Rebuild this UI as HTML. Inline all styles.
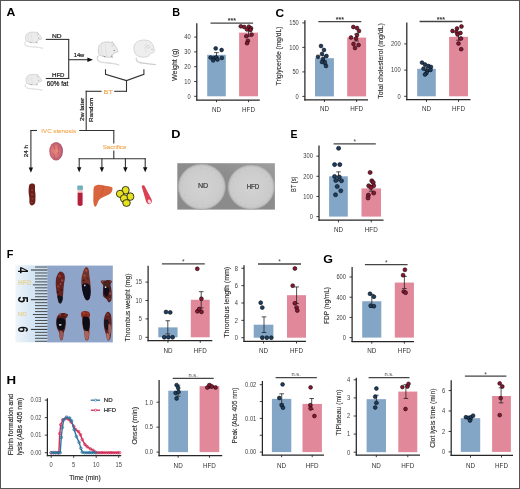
<!DOCTYPE html>
<html><head><meta charset="utf-8"><style>
html,body{margin:0;padding:0;background:#fff;}
body{width:520px;height:489px;overflow:hidden;}
svg{display:block;font-family:"Liberation Sans", sans-serif;will-change:transform;}
</style></head><body>
<svg width="520" height="489" viewBox="0 0 520 489">
<rect x="0" y="0" width="520" height="489" fill="#fff"/>
<text x="6.59" y="15.7" font-size="11.0" text-anchor="start" fill="#000" font-weight="bold" textLength="8.84" lengthAdjust="spacingAndGlyphs">A</text>
<text x="172.17" y="15.7" font-size="11.0" text-anchor="start" fill="#000" font-weight="bold" textLength="7.82" lengthAdjust="spacingAndGlyphs">B</text>
<text x="275.61" y="16.6" font-size="11.0" text-anchor="start" fill="#000" font-weight="bold" textLength="8.62" lengthAdjust="spacingAndGlyphs">C</text>
<text x="171.25" y="137.7" font-size="11.0" text-anchor="start" fill="#000" font-weight="bold" textLength="9.20" lengthAdjust="spacingAndGlyphs">D</text>
<text x="290.59" y="137.7" font-size="11.0" text-anchor="start" fill="#000" font-weight="bold" textLength="7.03" lengthAdjust="spacingAndGlyphs">E</text>
<text x="6.87" y="257.9" font-size="11.0" text-anchor="start" fill="#000" font-weight="bold" textLength="6.64" lengthAdjust="spacingAndGlyphs">F</text>
<text x="323.19" y="263.3" font-size="11.0" text-anchor="start" fill="#000" font-weight="bold" textLength="9.70" lengthAdjust="spacingAndGlyphs">G</text>
<text x="6.41" y="384.2" font-size="11.0" text-anchor="start" fill="#000" font-weight="bold" textLength="9.59" lengthAdjust="spacingAndGlyphs">H</text>
<g transform="translate(25.2 32.0) scale(0.835 0.7)">
<path d="M1 13.7 C-1.5 15.2 -1.5 18.2 2 20 C6 21.4 12 21.2 16 22 C18.5 22.5 20 23 21.2 23.4" fill="none" stroke="#c9c9c9" stroke-width="1.1"/>
<path d="M1 13.7 C-1.5 15.2 -1.5 18.2 2 20 C6 21.4 12 21.2 16 22 C18.5 22.5 20 23 21.2 23.4" fill="none" stroke="#f4f4f4" stroke-width="0.4"/>
<path d="M1.5 13.2 C-0.5 9.2 0 4.2 3 1.7 C6 -0.3 10.5 -0.3 13 0.7 L14.4 0 L15.3 1.7 C17 3.2 18.5 5.7 19 7.2 C20 8.7 20.3 9.7 19.8 10.2 C18.5 10.8 17 10.8 16 11.2 C15 13.2 14 14.7 13 15.2 C10 15.7 6 15.5 1.5 13.2 Z" fill="#ececec" stroke="#ababab" stroke-width="0.5"/>
<path d="M4 3 C3 6 3 10 4.5 13 M8 1.5 C7 5 7.5 10 9 14" fill="none" stroke="#d2d2d2" stroke-width="0.5"/>
<path d="M13.5 1.2 C14.5 0.2 15.8 1.2 15.8 3 C15.5 4.2 14.3 4.7 13.5 4" fill="#ececec" stroke="#a9a9a9" stroke-width="0.45"/>
<circle cx="16.2" cy="8.5" r="0.65" fill="#6a6a6a"/>
<path d="M5.6 14.2 L7.4 15.2 M13.6 13.8 L14.2 16" stroke="#8e8e8e" stroke-width="1"/>
</g>
<g transform="translate(25.7 74.3) scale(0.805 0.69)">
<path d="M1 13.7 C-1.5 15.2 -1.5 18.2 2 20 C6 21.4 12 21.2 16 22 C18.5 22.5 20 23 21.2 23.4" fill="none" stroke="#c9c9c9" stroke-width="1.1"/>
<path d="M1 13.7 C-1.5 15.2 -1.5 18.2 2 20 C6 21.4 12 21.2 16 22 C18.5 22.5 20 23 21.2 23.4" fill="none" stroke="#f4f4f4" stroke-width="0.4"/>
<path d="M1.5 13.2 C-0.5 9.2 0 4.2 3 1.7 C6 -0.3 10.5 -0.3 13 0.7 L14.4 0 L15.3 1.7 C17 3.2 18.5 5.7 19 7.2 C20 8.7 20.3 9.7 19.8 10.2 C18.5 10.8 17 10.8 16 11.2 C15 13.2 14 14.7 13 15.2 C10 15.7 6 15.5 1.5 13.2 Z" fill="#ececec" stroke="#ababab" stroke-width="0.5"/>
<path d="M4 3 C3 6 3 10 4.5 13 M8 1.5 C7 5 7.5 10 9 14" fill="none" stroke="#d2d2d2" stroke-width="0.5"/>
<path d="M13.5 1.2 C14.5 0.2 15.8 1.2 15.8 3 C15.5 4.2 14.3 4.7 13.5 4" fill="#ececec" stroke="#a9a9a9" stroke-width="0.45"/>
<circle cx="16.2" cy="8.5" r="0.65" fill="#6a6a6a"/>
<path d="M5.6 14.2 L7.4 15.2 M13.6 13.8 L14.2 16" stroke="#8e8e8e" stroke-width="1"/>
</g>
<g transform="translate(98.0 41.8) scale(1.0 1.0)">
<path d="M1 13.7 C-1.5 15.2 -1.5 18.2 2 20 C6 21.4 12 21.2 16 22 C18.5 22.5 20 23 21.2 23.4" fill="none" stroke="#c9c9c9" stroke-width="1.1"/>
<path d="M1 13.7 C-1.5 15.2 -1.5 18.2 2 20 C6 21.4 12 21.2 16 22 C18.5 22.5 20 23 21.2 23.4" fill="none" stroke="#f4f4f4" stroke-width="0.4"/>
<path d="M1.5 13.2 C-0.5 9.2 0 4.2 3 1.7 C6 -0.3 10.5 -0.3 13 0.7 L14.4 0 L15.3 1.7 C17 3.2 18.5 5.7 19 7.2 C20 8.7 20.3 9.7 19.8 10.2 C18.5 10.8 17 10.8 16 11.2 C15 13.2 14 14.7 13 15.2 C10 15.7 6 15.5 1.5 13.2 Z" fill="#ececec" stroke="#ababab" stroke-width="0.5"/>
<path d="M4 3 C3 6 3 10 4.5 13 M8 1.5 C7 5 7.5 10 9 14" fill="none" stroke="#d2d2d2" stroke-width="0.5"/>
<path d="M13.5 1.2 C14.5 0.2 15.8 1.2 15.8 3 C15.5 4.2 14.3 4.7 13.5 4" fill="#ececec" stroke="#a9a9a9" stroke-width="0.45"/>
<circle cx="16.2" cy="8.5" r="0.65" fill="#6a6a6a"/>
<path d="M5.6 14.2 L7.4 15.2 M13.6 13.8 L14.2 16" stroke="#8e8e8e" stroke-width="1"/>
</g>
<g transform="translate(133.2 39.9) scale(1.0 1.0)">
<path d="M3.2 17.8 C2.5 20 3.5 21.5 6 22.5 C10 23.7 16 23.8 22.6 24.7" fill="none" stroke="#cdcdcd" stroke-width="1.1"/>
<path d="M2.5 14.5 C0 11 -0.2 5.5 3 2.6 C6.5 -0.4 13 -0.6 16.5 1.4 C19 2.8 20.3 5.5 20.6 8 C21.4 9.5 21.4 11 20.6 12.2 C19.6 13 18.5 13.2 17.6 13.4 C16.6 15.6 14.6 17 12 17.3 C8.5 17.6 4.8 16.8 2.5 14.5 Z" fill="#eeeeee" stroke="#b6b6b6" stroke-width="0.5"/>
<path d="M13.8 5.6 C15.2 5 16.4 6 16.3 7.4 C16 8.4 14.8 8.6 14 8 C13.5 7.2 13.4 6.3 13.8 5.6 Z" fill="#f2f2f2" stroke="#b2b2b2" stroke-width="0.45"/>
<path d="M12.4 3.5 C11.6 6.5 11.8 10 13.2 12.8" fill="none" stroke="#d0d0d0" stroke-width="0.5"/>
<circle cx="18.8" cy="9.4" r="0.5" fill="#9a9a9a"/>
</g>
<line x1="45.8" y1="39.4" x2="69.2" y2="39.4" stroke="#333" stroke-width="1.1"/>
<line x1="45.8" y1="78.5" x2="69.2" y2="78.5" stroke="#333" stroke-width="1.1"/>
<line x1="68.7" y1="38.9" x2="68.7" y2="79.0" stroke="#333" stroke-width="1.1"/>
<line x1="68.7" y1="59.7" x2="88.5" y2="59.7" stroke="#333" stroke-width="1.1"/>
<path d="M87.4 57.4 L93.0 59.7 L87.4 62.0 Z" fill="#111"/>
<text x="52.0" y="37.7" font-size="5.9" text-anchor="start" fill="#1a1a1a" font-weight="normal" textLength="9.60" lengthAdjust="spacingAndGlyphs" stroke="#1a1a1a" stroke-width="0.2">ND</text>
<text x="52.0" y="77.2" font-size="5.9" text-anchor="start" fill="#1a1a1a" font-weight="normal" textLength="12.50" lengthAdjust="spacingAndGlyphs" stroke="#1a1a1a" stroke-width="0.2">HFD</text>
<text x="46.8" y="86.4" font-size="6.3" text-anchor="start" fill="#1a1a1a" font-weight="normal" textLength="21.50" lengthAdjust="spacingAndGlyphs" stroke="#1a1a1a" stroke-width="0.2">60% fat</text>
<text x="73.7" y="57.3" font-size="5.9" text-anchor="start" fill="#1a1a1a" font-weight="normal" textLength="10.60" lengthAdjust="spacingAndGlyphs" stroke="#1a1a1a" stroke-width="0.2">14w</text>
<path d="M105.5 69.3 L105.5 74.3 L126.5 80.6 L143.9 74.3 L143.9 69.3" fill="none" stroke="#333" stroke-width="1.1"/>
<line x1="126.5" y1="80.4" x2="126.5" y2="91.8" stroke="#333" stroke-width="1.1"/>
<line x1="114.2" y1="91.3" x2="127.0" y2="91.3" stroke="#333" stroke-width="1.1"/>
<text x="103.6" y="93.6" font-size="5.7" text-anchor="start" fill="#f0a64c" font-weight="normal" textLength="9.20" lengthAdjust="spacingAndGlyphs" stroke="#f0a64c" stroke-width="0.1">BT</text>
<line x1="85.7" y1="91.3" x2="101.6" y2="91.3" stroke="#333" stroke-width="1.1"/>
<line x1="86.2" y1="90.8" x2="86.2" y2="131.0" stroke="#333" stroke-width="1.1"/>
<text x="84.0" y="109.30000000000001" font-size="6.0" text-anchor="middle" fill="#1a1a1a" font-weight="normal" transform="rotate(-90 84.0 109.30000000000001)" textLength="23.20" lengthAdjust="spacingAndGlyphs" stroke="#1a1a1a" stroke-width="0.2">2w later</text>
<text x="92.9" y="109.80000000000001" font-size="6.0" text-anchor="middle" fill="#1a1a1a" font-weight="normal" transform="rotate(-90 92.9 109.80000000000001)" textLength="24.20" lengthAdjust="spacingAndGlyphs" stroke="#1a1a1a" stroke-width="0.2">Random</text>
<line x1="30.4" y1="130.5" x2="37.0" y2="130.5" stroke="#333" stroke-width="1.1"/>
<text x="41.3" y="132.9" font-size="6.1" text-anchor="start" fill="#f0a64c" font-weight="normal" textLength="34.70" lengthAdjust="spacingAndGlyphs" stroke="#f0a64c" stroke-width="0.1">IVC stenosis</text>
<line x1="79.2" y1="130.5" x2="114.3" y2="130.5" stroke="#333" stroke-width="1.1"/>
<line x1="30.9" y1="130.0" x2="30.9" y2="168.5" stroke="#333" stroke-width="1.1"/>
<path d="M28.7 167.4 L33.1 167.4 L30.9 172.8 Z" fill="#111"/>
<text x="28.4" y="151.1" font-size="5.8" text-anchor="middle" fill="#1a1a1a" font-weight="normal" transform="rotate(-90 28.4 151.1)" textLength="12.20" lengthAdjust="spacingAndGlyphs" stroke="#1a1a1a" stroke-width="0.2">24 h</text>
<line x1="113.8" y1="130.0" x2="113.8" y2="143.6" stroke="#333" stroke-width="1.1"/>
<text x="102.7" y="148.9" font-size="6.2" text-anchor="start" fill="#f0a64c" font-weight="normal" textLength="23.70" lengthAdjust="spacingAndGlyphs" stroke="#f0a64c" stroke-width="0.1">Sacrifice</text>
<line x1="113.8" y1="150.6" x2="113.8" y2="159.0" stroke="#333" stroke-width="1.1"/>
<line x1="78.7" y1="158.7" x2="145.7" y2="158.7" stroke="#333" stroke-width="1.1"/>
<line x1="79.2" y1="158.2" x2="79.2" y2="168.0" stroke="#333" stroke-width="1.1"/>
<path d="M77.0 167.2 L81.4 167.2 L79.2 172.2 Z" fill="#111"/>
<line x1="101.9" y1="158.2" x2="101.9" y2="168.0" stroke="#333" stroke-width="1.1"/>
<path d="M99.7 167.2 L104.10000000000001 167.2 L101.9 172.2 Z" fill="#111"/>
<line x1="125.4" y1="158.2" x2="125.4" y2="168.0" stroke="#333" stroke-width="1.1"/>
<path d="M123.2 167.2 L127.60000000000001 167.2 L125.4 172.2 Z" fill="#111"/>
<line x1="145.2" y1="158.2" x2="145.2" y2="168.0" stroke="#333" stroke-width="1.1"/>
<path d="M143.0 167.2 L147.39999999999998 167.2 L145.2 172.2 Z" fill="#111"/>
<defs><radialGradient id="egg" cx="0.45" cy="0.5" r="0.55"><stop offset="0" stop-color="#e58a7a"/><stop offset="0.55" stop-color="#d77476"/><stop offset="0.85" stop-color="#b85a70"/><stop offset="1" stop-color="#94506e"/></radialGradient></defs>
<ellipse cx="56.1" cy="151.2" rx="6.8" ry="9.3" fill="url(#egg)"/>
<g fill="none" stroke-width="0.7" stroke-linecap="round">
<path d="M53.5 145 C55 147 54 149 55.5 151" stroke="#c0405a"/>
<path d="M58.5 146 C58 149 59.5 151 58 154" stroke="#c04a5e"/>
<path d="M52.5 153 C54 154 55 156 54.5 158" stroke="#b84868"/>
<path d="M55 150.5 C56.5 150 57.5 150.5 58 151.5" stroke="#f0a890"/>
</g>
<path d="M29.4 184.6 C30.8 183 33.8 183 34.8 184.6 C35.4 187 34.6 189.5 35.2 192 C35.8 195 35.4 198 35.4 201 C35.2 204 33.5 205.6 31.6 205.4 C29.6 205 29.2 202.5 29.4 200 C29.6 197 28.6 194.5 28.6 191.5 C28.6 189 28.8 186.5 29.4 184.6 Z" fill="#6c1f1c"/>
<g fill="#8e4a30"><ellipse cx="32.2" cy="190" rx="1.1" ry="0.8"/><ellipse cx="32" cy="194.5" rx="1.2" ry="0.8"/><ellipse cx="32.4" cy="198.8" rx="1.1" ry="0.8"/><ellipse cx="31.8" cy="202.5" rx="0.9" ry="0.7"/></g>
<rect x="77.3" y="185.4" width="5.6" height="4.6" rx="0.6" fill="#6fb0bd"/>
<rect x="77.6" y="189.8" width="5.0" height="3.2" fill="#e8c8cc"/>
<path d="M77.6 192.8 L82.6 192.8 L82.6 204.6 C82.6 206.4 77.6 206.4 77.6 204.6 Z" fill="#b51f3c"/>
<path d="M94.2 186.5 C96.5 184 101 184.4 104 185.6 C107 186.6 110.5 186.2 112.4 187.4 C113 190 111.6 193 109 194.6 C105.5 196.6 101 197.5 99 200 C97.5 202.5 96.8 206.5 95.2 206.8 C93.2 206 93.2 200 93.4 196 C93.5 192 93.2 188.5 94.2 186.5 Z" fill="#d9653f"/>
<path d="M103 186 C103.5 190 102.5 193 100 196" fill="none" stroke="#b84a2c" stroke-width="0.5"/>
<g stroke="#1a1a1a" stroke-width="0.85" fill="#e6e21e">
<ellipse cx="125.6" cy="190.2" rx="3.6" ry="3.8"/>
<ellipse cx="120.0" cy="193.8" rx="3.6" ry="3.6"/>
<ellipse cx="130.3" cy="196.6" rx="3.6" ry="3.8"/>
<ellipse cx="124.0" cy="198.4" rx="3.6" ry="3.8"/>
<ellipse cx="126.5" cy="203.0" rx="3.8" ry="3.4"/>
</g>
<path d="M141.6 186.3 C142.8 184.8 144.4 185.2 145 186.8 L151.6 199.5 C152.6 202.4 150.6 205 148.2 204 C147 203.4 146.4 202.4 146 201.2 Z" fill="#dc3f52"/>
<ellipse cx="149.4" cy="201.6" rx="1.6" ry="2.2" fill="#f4d4d8" transform="rotate(-25 149.4 201.6)"/>
<defs>
<radialGradient id="plate" cx="0.5" cy="0.5" r="0.5"><stop offset="0" stop-color="#d3d3d3"/><stop offset="0.88" stop-color="#cbcbcb"/><stop offset="1" stop-color="#b8b8b8"/></radialGradient>
</defs>
<linearGradient id="pbg" x1="0" y1="1" x2="1" y2="0"><stop offset="0" stop-color="#8a8a8a"/><stop offset="0.6" stop-color="#8c8c8c"/><stop offset="1" stop-color="#9e9e9e"/></linearGradient>
<rect x="177.3" y="163.2" width="97.6" height="46.4" fill="url(#pbg)"/>
<ellipse cx="201.8" cy="186.8" rx="23.6" ry="22.7" fill="url(#plate)" stroke="#aaaaaa" stroke-width="0.6"/>
<ellipse cx="251.2" cy="187.1" rx="23.2" ry="22.1" fill="url(#plate)" stroke="#aaaaaa" stroke-width="0.6"/>
<circle cx="221.20" cy="188.67" r="0.45" fill="#b09c9c" opacity="0.55"/><circle cx="219.87" cy="193.84" r="0.45" fill="#b09c9c" opacity="0.55"/><circle cx="217.07" cy="198.44" r="0.45" fill="#b09c9c" opacity="0.55"/><circle cx="213.03" cy="202.10" r="0.45" fill="#b09c9c" opacity="0.55"/><circle cx="208.09" cy="204.52" r="0.45" fill="#b09c9c" opacity="0.55"/><circle cx="202.63" cy="205.50" r="0.45" fill="#b09c9c" opacity="0.55"/><circle cx="197.11" cy="204.97" r="0.45" fill="#b09c9c" opacity="0.55"/><circle cx="191.97" cy="202.97" r="0.45" fill="#b09c9c" opacity="0.55"/><circle cx="187.62" cy="199.65" r="0.45" fill="#b09c9c" opacity="0.55"/><circle cx="184.43" cy="195.30" r="0.45" fill="#b09c9c" opacity="0.55"/><circle cx="182.63" cy="190.25" r="0.45" fill="#b09c9c" opacity="0.55"/><circle cx="182.40" cy="184.93" r="0.45" fill="#b09c9c" opacity="0.55"/><circle cx="183.73" cy="179.76" r="0.45" fill="#b09c9c" opacity="0.55"/><circle cx="186.53" cy="175.16" r="0.45" fill="#b09c9c" opacity="0.55"/><circle cx="190.57" cy="171.50" r="0.45" fill="#b09c9c" opacity="0.55"/><circle cx="195.51" cy="169.08" r="0.45" fill="#b09c9c" opacity="0.55"/><circle cx="200.97" cy="168.10" r="0.45" fill="#b09c9c" opacity="0.55"/><circle cx="206.49" cy="168.63" r="0.45" fill="#b09c9c" opacity="0.55"/><circle cx="211.63" cy="170.63" r="0.45" fill="#b09c9c" opacity="0.55"/><circle cx="215.98" cy="173.95" r="0.45" fill="#b09c9c" opacity="0.55"/><circle cx="219.17" cy="178.30" r="0.45" fill="#b09c9c" opacity="0.55"/><circle cx="220.97" cy="183.35" r="0.45" fill="#b09c9c" opacity="0.55"/><circle cx="269.35" cy="192.49" r="0.45" fill="#b09c9c" opacity="0.55"/><circle cx="266.73" cy="197.61" r="0.45" fill="#b09c9c" opacity="0.55"/><circle cx="262.58" cy="201.70" r="0.45" fill="#b09c9c" opacity="0.55"/><circle cx="257.33" cy="204.37" r="0.45" fill="#b09c9c" opacity="0.55"/><circle cx="251.47" cy="205.34" r="0.45" fill="#b09c9c" opacity="0.55"/><circle cx="245.59" cy="204.53" r="0.45" fill="#b09c9c" opacity="0.55"/><circle cx="240.25" cy="202.01" r="0.45" fill="#b09c9c" opacity="0.55"/><circle cx="235.99" cy="198.03" r="0.45" fill="#b09c9c" opacity="0.55"/><circle cx="233.21" cy="192.98" r="0.45" fill="#b09c9c" opacity="0.55"/><circle cx="232.20" cy="187.36" r="0.45" fill="#b09c9c" opacity="0.55"/><circle cx="233.05" cy="181.71" r="0.45" fill="#b09c9c" opacity="0.55"/><circle cx="235.67" cy="176.59" r="0.45" fill="#b09c9c" opacity="0.55"/><circle cx="239.82" cy="172.50" r="0.45" fill="#b09c9c" opacity="0.55"/><circle cx="245.07" cy="169.83" r="0.45" fill="#b09c9c" opacity="0.55"/><circle cx="250.93" cy="168.86" r="0.45" fill="#b09c9c" opacity="0.55"/><circle cx="256.81" cy="169.67" r="0.45" fill="#b09c9c" opacity="0.55"/><circle cx="262.15" cy="172.19" r="0.45" fill="#b09c9c" opacity="0.55"/><circle cx="266.41" cy="176.17" r="0.45" fill="#b09c9c" opacity="0.55"/><circle cx="269.19" cy="181.22" r="0.45" fill="#b09c9c" opacity="0.55"/><circle cx="270.20" cy="186.84" r="0.45" fill="#b09c9c" opacity="0.55"/>
<text x="197.9" y="188.1" font-size="6.5" text-anchor="start" fill="#3a3a3a" font-weight="normal" textLength="10.30" lengthAdjust="spacingAndGlyphs" stroke="#3a3a3a" stroke-width="0.2">ND</text>
<text x="246.7" y="188.8" font-size="6.5" text-anchor="start" fill="#3a3a3a" font-weight="normal" textLength="12.60" lengthAdjust="spacingAndGlyphs" stroke="#3a3a3a" stroke-width="0.2">HFD</text>
<defs><linearGradient id="rul" x1="0" y1="0" x2="1" y2="0"><stop offset="0" stop-color="#eef4fa"/><stop offset="0.5" stop-color="#d6e6f4"/><stop offset="1" stop-color="#c8dcee"/></linearGradient></defs>
<rect x="15.4" y="265.3" width="32.2" height="77.0" fill="url(#rul)"/>
<rect x="47.4" y="265.6" width="65.4" height="76.8" fill="#8ea4c8"/>
<line x1="35.0" y1="267.03" x2="47.4" y2="267.03" stroke="#1e1e1e" stroke-width="0.75"/>
<line x1="30.9" y1="270.00" x2="47.4" y2="270.00" stroke="#1e1e1e" stroke-width="0.95"/>
<line x1="35.0" y1="272.97" x2="47.4" y2="272.97" stroke="#1e1e1e" stroke-width="0.75"/>
<line x1="35.0" y1="275.94" x2="47.4" y2="275.94" stroke="#1e1e1e" stroke-width="0.75"/>
<line x1="35.0" y1="278.91" x2="47.4" y2="278.91" stroke="#1e1e1e" stroke-width="0.75"/>
<line x1="35.0" y1="281.88" x2="47.4" y2="281.88" stroke="#1e1e1e" stroke-width="0.75"/>
<line x1="32.9" y1="284.85" x2="47.4" y2="284.85" stroke="#1e1e1e" stroke-width="0.8"/>
<line x1="35.0" y1="287.82" x2="47.4" y2="287.82" stroke="#1e1e1e" stroke-width="0.75"/>
<line x1="35.0" y1="290.79" x2="47.4" y2="290.79" stroke="#1e1e1e" stroke-width="0.75"/>
<line x1="35.0" y1="293.76" x2="47.4" y2="293.76" stroke="#1e1e1e" stroke-width="0.75"/>
<line x1="35.0" y1="296.73" x2="47.4" y2="296.73" stroke="#1e1e1e" stroke-width="0.75"/>
<line x1="30.9" y1="299.70" x2="47.4" y2="299.70" stroke="#1e1e1e" stroke-width="0.95"/>
<line x1="35.0" y1="302.67" x2="47.4" y2="302.67" stroke="#1e1e1e" stroke-width="0.75"/>
<line x1="35.0" y1="305.64" x2="47.4" y2="305.64" stroke="#1e1e1e" stroke-width="0.75"/>
<line x1="35.0" y1="308.61" x2="47.4" y2="308.61" stroke="#1e1e1e" stroke-width="0.75"/>
<line x1="35.0" y1="311.58" x2="47.4" y2="311.58" stroke="#1e1e1e" stroke-width="0.75"/>
<line x1="32.9" y1="314.55" x2="47.4" y2="314.55" stroke="#1e1e1e" stroke-width="0.8"/>
<line x1="35.0" y1="317.52" x2="47.4" y2="317.52" stroke="#1e1e1e" stroke-width="0.75"/>
<line x1="35.0" y1="320.49" x2="47.4" y2="320.49" stroke="#1e1e1e" stroke-width="0.75"/>
<line x1="35.0" y1="323.46" x2="47.4" y2="323.46" stroke="#1e1e1e" stroke-width="0.75"/>
<line x1="35.0" y1="326.43" x2="47.4" y2="326.43" stroke="#1e1e1e" stroke-width="0.75"/>
<line x1="30.9" y1="329.40" x2="47.4" y2="329.40" stroke="#1e1e1e" stroke-width="0.95"/>
<line x1="35.0" y1="332.37" x2="47.4" y2="332.37" stroke="#1e1e1e" stroke-width="0.75"/>
<line x1="35.0" y1="335.34" x2="47.4" y2="335.34" stroke="#1e1e1e" stroke-width="0.75"/>
<line x1="35.0" y1="338.31" x2="47.4" y2="338.31" stroke="#1e1e1e" stroke-width="0.75"/>
<line x1="35.0" y1="341.28" x2="47.4" y2="341.28" stroke="#1e1e1e" stroke-width="0.75"/>
<text x="22.9" y="270.0" font-size="14.5" text-anchor="middle" fill="#111" font-weight="bold" transform="rotate(90 22.9 270.0)" textLength="6.20" lengthAdjust="spacingAndGlyphs" dominant-baseline="central">4</text>
<text x="22.9" y="299.7" font-size="14.5" text-anchor="middle" fill="#111" font-weight="bold" transform="rotate(90 22.9 299.7)" textLength="6.20" lengthAdjust="spacingAndGlyphs" dominant-baseline="central">5</text>
<text x="22.9" y="329.4" font-size="14.5" text-anchor="middle" fill="#111" font-weight="bold" transform="rotate(90 22.9 329.4)" textLength="6.20" lengthAdjust="spacingAndGlyphs" dominant-baseline="central">6</text>
<text x="18.1" y="285.2" font-size="7.0" text-anchor="start" fill="#e6d49a" font-weight="bold" textLength="13.40" lengthAdjust="spacingAndGlyphs">HFD</text>
<text x="17.7" y="316.0" font-size="5.8" text-anchor="start" fill="#e6d49a" font-weight="bold" textLength="9.20" lengthAdjust="spacingAndGlyphs">ND</text>
<defs><filter id="bl" x="-20%" y="-20%" width="140%" height="140%"><feGaussianBlur stdDeviation="0.4"/></filter></defs>
<g filter="url(#bl)">
<path d="M60.5 271.5 C62 271.6 63.2 272.3 64.4 274.5 C65.2 276.5 65 279.5 64.2 282.5 C63.6 286 63.5 290 63.2 294 C62.9 297.5 62.4 300.5 61.4 302.6 C60.6 303.8 59.2 303.6 58.5 302.2 C57.6 299 57 295 56.4 291 C55.8 287 55.5 283 55.9 279.5 C56.3 276.5 57.6 274 58.8 272.5 C59.3 271.8 59.9 271.5 60.5 271.5 Z" fill="#642320"/>
<circle cx="59.6" cy="276" r="1.6" fill="#8e3b2e"/><circle cx="62.2" cy="280.5" r="1.2" fill="#94443a"/><circle cx="58.2" cy="286.5" r="1.3" fill="#8a3a2e"/><circle cx="61.5" cy="290" r="1.1" fill="#3a1618"/><circle cx="57.6" cy="292" r="0.9" fill="#2a1418"/><circle cx="60.5" cy="284" r="0.7" fill="#b06a5a"/>
<path d="M57.5 296 C59.5 295 62.5 295.5 62.8 298 C62.6 301 61.4 303.6 60 303.6 C58.6 302.8 57.8 299.5 57.5 296 Z" fill="#10131f"/>
<path d="M86.3 267.1 C87.8 267.3 88.8 269 89 271.5 C89.2 274.5 89.6 277.5 90.1 280.5 C90.6 284.5 90.8 289 90.6 293.5 C90.4 297 89.4 299.8 87.8 300.5 C86.2 300.6 84.8 298.5 83.8 295.5 C82.6 292 81.8 288 81.4 284 C81.1 280 81.6 276.5 82.6 273.5 C83.6 270 84.8 267.4 86.3 267.1 Z" fill="#72302a"/>
<circle cx="86.2" cy="270.5" r="1.3" fill="#a25238"/><circle cx="84.5" cy="275.5" r="1.2" fill="#9a4a36"/><circle cx="87.6" cy="278.5" r="1.1" fill="#5a2020"/><circle cx="83.6" cy="280.5" r="1" fill="#3a1a1c"/>
<path d="M82.3 284.5 C84 282.5 88.2 282.8 89.9 285.5 C90.8 289.5 90.8 294.5 89.8 298 C88.8 300.4 86.8 300.8 85.6 299.4 C84 297 82.8 293 82.2 289.2 C82 287.4 82 285.6 82.3 284.5 Z" fill="#0b0e1a"/>
<circle cx="84.8" cy="285.4" r="0.85" fill="#d8d0d0"/>
<path d="M100.6 281 C102.5 280 104.8 280.6 106.5 280.2 C108.5 279.7 110.5 280 112 281.2 C111.5 282.6 110.6 283.2 110.5 285 C111.6 289 112 294 111.6 298.5 C111.2 301.8 109.6 303 108.3 302 C107.3 300.2 106.5 298.8 105.1 298.1 C103.6 297.4 102.6 295.4 102.9 293 C103.1 290 103.5 287 103 284.5 C102 283.5 101 282.5 100.6 281 Z" fill="#4e201f"/>
<circle cx="102.6" cy="281.4" r="1" fill="#9a4a3a"/><circle cx="110.4" cy="281.6" r="0.9" fill="#8a3a30"/>
<path d="M103.5 287 C105 285.5 108 286 109 288.5 C109.5 292 108.5 296 106.5 297 C104.5 296.5 103.5 293 103.5 290 Z" fill="#17111a"/>
<circle cx="105.6" cy="287.2" r="0.85" fill="#e0d8d8"/>
<circle cx="110.2" cy="293.5" r="1.2" fill="#9a463a"/><circle cx="109.5" cy="299" r="1" fill="#8a3a30"/>
<path d="M61.9 313 C64 312.6 66.5 313.2 68.1 314.6 C67.8 316.6 66.6 317.8 65.6 318.6 C66 322 65.8 326 65 329.6 C64 331.5 63.5 333 63.4 335 C63.4 337.5 62.8 340 61.5 340.6 C60 340.2 59.6 337.5 59.5 335 C59.3 332.5 58.8 331 57.5 329.5 C56.2 326 56 322 56.5 318.5 C57 316 59 313.6 61.9 313 Z" fill="#561f1e"/>
<circle cx="60" cy="314.8" r="1.2" fill="#8e3a30"/><circle cx="65.5" cy="315.2" r="1" fill="#7e3028"/>
<path d="M57 319 C59 317.5 63.5 317.5 65.2 320 C65.8 323.5 65 327.5 63.2 329.8 C61 330.5 58.6 329.8 57.4 327.5 C56.4 325 56.4 321.5 57 319 Z" fill="#0f0e18"/>
<ellipse cx="60.2" cy="324.8" rx="1.4" ry="0.85" fill="#e4dcdc"/>
<path d="M59.6 331 C61 330.5 63 331 63.2 333.5 C63.4 336.5 62.5 340 61.4 340.6 C60.2 340 59.4 337 59.3 334.5 Z" fill="#9c5850"/>
<path d="M84.5 311 C86.5 310.6 89.2 311.4 90 313.4 C90.3 315.5 89.6 317 89.2 318.5 C90 322 90 326 89.4 329.5 C89.4 332.5 89.6 336 88.6 339.2 C87.8 340.8 86 340.8 85.2 339.4 C84.4 336.5 84.6 333 83.8 330.6 C82.6 327 82 322 82.2 318 C81 316 80.6 313.5 81.5 312.2 C82.4 311.4 83.4 311.1 84.5 311 Z" fill="#862c24"/>
<circle cx="84" cy="313.2" r="1.4" fill="#a83a2c"/><circle cx="87.8" cy="313.6" r="1.1" fill="#9a3428"/>
<path d="M83 317 C85 316 88.5 316.5 89.5 319 C90 323 89.8 327.5 88.8 330.5 C87 331.5 84.8 331 83.8 329 C82.6 325.5 82.2 320.5 83 317 Z" fill="#0b0b15"/>
<path d="M84.5 331 C86 330.5 88.5 331 89 333.5 C89 336.5 88.3 339.5 86.8 340.4 C85.4 340 84.8 337 84.4 334.5 Z" fill="#a8665a"/>
<path d="M107.5 311.8 C109 311.6 110.6 313 111 315 C111.6 318 111.9 322 111.6 326 C111.4 330 111.3 334 110.6 337.5 C110 340 108.6 341 107.4 340.2 C106.6 338 106.4 335 105.4 332.5 C104.2 329 103.6 325 103.8 321 C104 317.5 105.4 313 107.5 311.8 Z" fill="#5e2422"/>
<path d="M104.2 320 C105.6 318.5 108 319 108.6 321.5 C109 325 108.5 329 107 330.5 C105.5 330 104.5 327 104.2 324 Z" fill="#14121c"/>
<path d="M108.5 324 C110 323.5 111.4 325.5 111.2 329 C111 333 110 336 109 335 C108.4 332 108 327 108.5 324 Z" fill="#a06258"/>
<path d="M106.5 333 C107.8 332.5 109.5 334 109.8 336.5 C109.6 339 108.5 340.6 107.4 340.2 C106.6 338 106.2 335.5 106.5 333 Z" fill="#ac6e64"/>
<circle cx="107.6" cy="314.5" r="1.1" fill="#8a3a30"/>
</g>
<rect x="207.2" y="54.86" width="18.600000000000023" height="41.44" fill="#84a6c6"/>
<rect x="239.1" y="32.66" width="18.900000000000006" height="63.64" fill="#e1889a"/>
<line x1="216.5" y1="52.64" x2="216.5" y2="57.08" stroke="#1a1a1a" stroke-width="0.75"/>
<line x1="214.2" y1="52.64" x2="218.8" y2="52.64" stroke="#1a1a1a" stroke-width="0.75"/>
<line x1="214.2" y1="57.08" x2="218.8" y2="57.08" stroke="#1a1a1a" stroke-width="0.75"/>
<line x1="248.5" y1="28.959999999999994" x2="248.5" y2="36.36" stroke="#1a1a1a" stroke-width="0.75"/>
<line x1="246.2" y1="28.959999999999994" x2="250.8" y2="28.959999999999994" stroke="#1a1a1a" stroke-width="0.75"/>
<line x1="246.2" y1="36.36" x2="250.8" y2="36.36" stroke="#1a1a1a" stroke-width="0.75"/>
<circle cx="215.7" cy="48.4" r="1.9" fill="#1b3d61" stroke="#0d0d0d" stroke-width="0.6"/>
<circle cx="221.6" cy="50" r="1.9" fill="#1b3d61" stroke="#0d0d0d" stroke-width="0.6"/>
<circle cx="210.6" cy="57.6" r="1.9" fill="#1b3d61" stroke="#0d0d0d" stroke-width="0.6"/>
<circle cx="213.9" cy="58.1" r="1.9" fill="#1b3d61" stroke="#0d0d0d" stroke-width="0.6"/>
<circle cx="216.2" cy="57.4" r="1.9" fill="#1b3d61" stroke="#0d0d0d" stroke-width="0.6"/>
<circle cx="221.9" cy="57.9" r="1.9" fill="#1b3d61" stroke="#0d0d0d" stroke-width="0.6"/>
<circle cx="213.2" cy="60.4" r="1.9" fill="#1b3d61" stroke="#0d0d0d" stroke-width="0.6"/>
<circle cx="217.5" cy="59.5" r="1.9" fill="#1b3d61" stroke="#0d0d0d" stroke-width="0.6"/>
<circle cx="240.8" cy="26.3" r="1.9" fill="#8c1631" stroke="#0d0d0d" stroke-width="0.6"/>
<circle cx="244.2" cy="27" r="1.9" fill="#8c1631" stroke="#0d0d0d" stroke-width="0.6"/>
<circle cx="248.8" cy="26.7" r="1.9" fill="#8c1631" stroke="#0d0d0d" stroke-width="0.6"/>
<circle cx="251" cy="28.2" r="1.9" fill="#8c1631" stroke="#0d0d0d" stroke-width="0.6"/>
<circle cx="247" cy="29.4" r="1.9" fill="#8c1631" stroke="#0d0d0d" stroke-width="0.6"/>
<circle cx="250.5" cy="30" r="1.9" fill="#8c1631" stroke="#0d0d0d" stroke-width="0.6"/>
<circle cx="246.3" cy="36.2" r="1.9" fill="#8c1631" stroke="#0d0d0d" stroke-width="0.6"/>
<circle cx="251.6" cy="34.6" r="1.9" fill="#8c1631" stroke="#0d0d0d" stroke-width="0.6"/>
<circle cx="247.9" cy="40.8" r="1.9" fill="#8c1631" stroke="#0d0d0d" stroke-width="0.6"/>
<circle cx="247" cy="43.2" r="1.9" fill="#8c1631" stroke="#0d0d0d" stroke-width="0.6"/>
<line x1="196.8" y1="23.3" x2="196.8" y2="100.6" stroke="#262626" stroke-width="1.25"/>
<line x1="196.20000000000002" y1="100.0" x2="259.8" y2="100.0" stroke="#262626" stroke-width="1.25"/>
<line x1="194.20000000000002" y1="96.3" x2="196.8" y2="96.3" stroke="#262626" stroke-width="0.9"/>
<text x="190.70000000000002" y="98.6" font-size="6.4" text-anchor="end" fill="#404040" font-weight="normal" textLength="3.20" lengthAdjust="spacingAndGlyphs">0</text>
<line x1="194.20000000000002" y1="81.5" x2="196.8" y2="81.5" stroke="#262626" stroke-width="0.9"/>
<text x="190.70000000000002" y="83.8" font-size="6.4" text-anchor="end" fill="#404040" font-weight="normal" textLength="6.41" lengthAdjust="spacingAndGlyphs">10</text>
<line x1="194.20000000000002" y1="66.69999999999999" x2="196.8" y2="66.69999999999999" stroke="#262626" stroke-width="0.9"/>
<text x="190.70000000000002" y="68.99999999999999" font-size="6.4" text-anchor="end" fill="#404040" font-weight="normal" textLength="6.41" lengthAdjust="spacingAndGlyphs">20</text>
<line x1="194.20000000000002" y1="51.9" x2="196.8" y2="51.9" stroke="#262626" stroke-width="0.9"/>
<text x="190.70000000000002" y="54.199999999999996" font-size="6.4" text-anchor="end" fill="#404040" font-weight="normal" textLength="6.41" lengthAdjust="spacingAndGlyphs">30</text>
<line x1="194.20000000000002" y1="37.099999999999994" x2="196.8" y2="37.099999999999994" stroke="#262626" stroke-width="0.9"/>
<text x="190.70000000000002" y="39.39999999999999" font-size="6.4" text-anchor="end" fill="#404040" font-weight="normal" textLength="6.41" lengthAdjust="spacingAndGlyphs">40</text>
<line x1="216.5" y1="100.0" x2="216.5" y2="102.2" stroke="#262626" stroke-width="0.9"/>
<text x="216.5" y="111.6" font-size="6.3" text-anchor="middle" fill="#333" font-weight="normal">ND</text>
<line x1="248.55" y1="100.0" x2="248.55" y2="102.2" stroke="#262626" stroke-width="0.9"/>
<text x="248.55" y="111.6" font-size="6.3" text-anchor="middle" fill="#333" font-weight="normal">HFD</text>
<line x1="210.5" y1="23.1" x2="253.1" y2="23.1" stroke="#444" stroke-width="1.3"/>
<text x="231.8" y="23.3" font-size="7.0" text-anchor="middle" fill="#333" font-weight="bold">***</text>
<text x="177.4" y="64.8" font-size="6.8" text-anchor="middle" fill="#303030" font-weight="normal" transform="rotate(-90 177.4 64.8)" textLength="32.60" lengthAdjust="spacingAndGlyphs" stroke="#303030" stroke-width="0.13">Weight (g)</text>
<rect x="315" y="58.18000000000001" width="18.899999999999977" height="38.22" fill="#84a6c6"/>
<rect x="347.2" y="37.60000000000001" width="18.900000000000034" height="58.8" fill="#e1889a"/>
<line x1="324.5" y1="55.730000000000004" x2="324.5" y2="60.63000000000001" stroke="#1a1a1a" stroke-width="0.75"/>
<line x1="322.2" y1="55.730000000000004" x2="326.8" y2="55.730000000000004" stroke="#1a1a1a" stroke-width="0.75"/>
<line x1="322.2" y1="60.63000000000001" x2="326.8" y2="60.63000000000001" stroke="#1a1a1a" stroke-width="0.75"/>
<line x1="356.6" y1="34.17000000000001" x2="356.6" y2="41.03000000000001" stroke="#1a1a1a" stroke-width="0.75"/>
<line x1="354.3" y1="34.17000000000001" x2="358.90000000000003" y2="34.17000000000001" stroke="#1a1a1a" stroke-width="0.75"/>
<line x1="354.3" y1="41.03000000000001" x2="358.90000000000003" y2="41.03000000000001" stroke="#1a1a1a" stroke-width="0.75"/>
<circle cx="321" cy="46" r="1.9" fill="#1b3d61" stroke="#0d0d0d" stroke-width="0.6"/>
<circle cx="324" cy="50" r="1.9" fill="#1b3d61" stroke="#0d0d0d" stroke-width="0.6"/>
<circle cx="322" cy="54" r="1.9" fill="#1b3d61" stroke="#0d0d0d" stroke-width="0.6"/>
<circle cx="318" cy="56.8" r="1.9" fill="#1b3d61" stroke="#0d0d0d" stroke-width="0.6"/>
<circle cx="326.5" cy="56" r="1.9" fill="#1b3d61" stroke="#0d0d0d" stroke-width="0.6"/>
<circle cx="323" cy="59" r="1.9" fill="#1b3d61" stroke="#0d0d0d" stroke-width="0.6"/>
<circle cx="322" cy="62" r="1.9" fill="#1b3d61" stroke="#0d0d0d" stroke-width="0.6"/>
<circle cx="325" cy="63" r="1.9" fill="#1b3d61" stroke="#0d0d0d" stroke-width="0.6"/>
<circle cx="326" cy="66" r="1.9" fill="#1b3d61" stroke="#0d0d0d" stroke-width="0.6"/>
<circle cx="353.3" cy="27" r="1.9" fill="#8c1631" stroke="#0d0d0d" stroke-width="0.6"/>
<circle cx="357" cy="28" r="1.9" fill="#8c1631" stroke="#0d0d0d" stroke-width="0.6"/>
<circle cx="359" cy="31" r="1.9" fill="#8c1631" stroke="#0d0d0d" stroke-width="0.6"/>
<circle cx="357" cy="35" r="1.9" fill="#8c1631" stroke="#0d0d0d" stroke-width="0.6"/>
<circle cx="351" cy="37.5" r="1.9" fill="#8c1631" stroke="#0d0d0d" stroke-width="0.6"/>
<circle cx="356" cy="38.5" r="1.9" fill="#8c1631" stroke="#0d0d0d" stroke-width="0.6"/>
<circle cx="353.5" cy="44" r="1.9" fill="#8c1631" stroke="#0d0d0d" stroke-width="0.6"/>
<circle cx="358.6" cy="45" r="1.9" fill="#8c1631" stroke="#0d0d0d" stroke-width="0.6"/>
<circle cx="355" cy="48" r="1.9" fill="#8c1631" stroke="#0d0d0d" stroke-width="0.6"/>
<line x1="304.9" y1="20.2" x2="304.9" y2="100.39999999999999" stroke="#262626" stroke-width="1.25"/>
<line x1="304.29999999999995" y1="99.8" x2="368" y2="99.8" stroke="#262626" stroke-width="1.25"/>
<line x1="302.29999999999995" y1="96.4" x2="304.9" y2="96.4" stroke="#262626" stroke-width="0.9"/>
<text x="298.79999999999995" y="98.7" font-size="6.4" text-anchor="end" fill="#404040" font-weight="normal" textLength="3.20" lengthAdjust="spacingAndGlyphs">0</text>
<line x1="302.29999999999995" y1="71.9" x2="304.9" y2="71.9" stroke="#262626" stroke-width="0.9"/>
<text x="298.79999999999995" y="74.2" font-size="6.4" text-anchor="end" fill="#404040" font-weight="normal" textLength="6.41" lengthAdjust="spacingAndGlyphs">50</text>
<line x1="302.29999999999995" y1="47.400000000000006" x2="304.9" y2="47.400000000000006" stroke="#262626" stroke-width="0.9"/>
<text x="298.79999999999995" y="49.7" font-size="6.4" text-anchor="end" fill="#404040" font-weight="normal" textLength="9.61" lengthAdjust="spacingAndGlyphs">100</text>
<line x1="302.29999999999995" y1="22.900000000000006" x2="304.9" y2="22.900000000000006" stroke="#262626" stroke-width="0.9"/>
<text x="298.79999999999995" y="25.200000000000006" font-size="6.4" text-anchor="end" fill="#404040" font-weight="normal" textLength="9.61" lengthAdjust="spacingAndGlyphs">150</text>
<line x1="324.45" y1="99.8" x2="324.45" y2="102.0" stroke="#262626" stroke-width="0.9"/>
<text x="324.45" y="111.39999999999999" font-size="6.3" text-anchor="middle" fill="#333" font-weight="normal">ND</text>
<line x1="356.65" y1="99.8" x2="356.65" y2="102.0" stroke="#262626" stroke-width="0.9"/>
<text x="356.65" y="111.39999999999999" font-size="6.3" text-anchor="middle" fill="#333" font-weight="normal">HFD</text>
<line x1="318.3" y1="21.6" x2="361.3" y2="21.6" stroke="#444" stroke-width="1.3"/>
<text x="339.8" y="21.8" font-size="7.0" text-anchor="middle" fill="#333" font-weight="bold">***</text>
<text x="281.3" y="55.95" font-size="6.8" text-anchor="middle" fill="#303030" font-weight="normal" transform="rotate(-90 281.3 55.95)" textLength="58.90" lengthAdjust="spacingAndGlyphs" stroke="#303030" stroke-width="0.13">Triglyceride (mg/dL)</text>
<rect x="417.2" y="68.78999999999999" width="18.600000000000023" height="27.510000000000005" fill="#84a6c6"/>
<rect x="449.1" y="36.82599999999999" width="18.899999999999977" height="59.474000000000004" fill="#e1889a"/>
<line x1="426.5" y1="66.95599999999999" x2="426.5" y2="70.624" stroke="#1a1a1a" stroke-width="0.75"/>
<line x1="424.2" y1="66.95599999999999" x2="428.8" y2="66.95599999999999" stroke="#1a1a1a" stroke-width="0.75"/>
<line x1="424.2" y1="70.624" x2="428.8" y2="70.624" stroke="#1a1a1a" stroke-width="0.75"/>
<line x1="458.5" y1="33.419999999999995" x2="458.5" y2="40.23199999999999" stroke="#1a1a1a" stroke-width="0.75"/>
<line x1="456.2" y1="33.419999999999995" x2="460.8" y2="33.419999999999995" stroke="#1a1a1a" stroke-width="0.75"/>
<line x1="456.2" y1="40.23199999999999" x2="460.8" y2="40.23199999999999" stroke="#1a1a1a" stroke-width="0.75"/>
<circle cx="422" cy="62.6" r="1.9" fill="#1b3d61" stroke="#0d0d0d" stroke-width="0.6"/>
<circle cx="425" cy="64.5" r="1.9" fill="#1b3d61" stroke="#0d0d0d" stroke-width="0.6"/>
<circle cx="428.5" cy="66" r="1.9" fill="#1b3d61" stroke="#0d0d0d" stroke-width="0.6"/>
<circle cx="431" cy="67" r="1.9" fill="#1b3d61" stroke="#0d0d0d" stroke-width="0.6"/>
<circle cx="423.5" cy="68.6" r="1.9" fill="#1b3d61" stroke="#0d0d0d" stroke-width="0.6"/>
<circle cx="427.5" cy="70.5" r="1.9" fill="#1b3d61" stroke="#0d0d0d" stroke-width="0.6"/>
<circle cx="430.5" cy="70" r="1.9" fill="#1b3d61" stroke="#0d0d0d" stroke-width="0.6"/>
<circle cx="426.5" cy="73" r="1.9" fill="#1b3d61" stroke="#0d0d0d" stroke-width="0.6"/>
<circle cx="425" cy="74.5" r="1.9" fill="#1b3d61" stroke="#0d0d0d" stroke-width="0.6"/>
<circle cx="461.5" cy="26.5" r="1.9" fill="#8c1631" stroke="#0d0d0d" stroke-width="0.6"/>
<circle cx="457" cy="28.5" r="1.9" fill="#8c1631" stroke="#0d0d0d" stroke-width="0.6"/>
<circle cx="452.5" cy="31" r="1.9" fill="#8c1631" stroke="#0d0d0d" stroke-width="0.6"/>
<circle cx="456.5" cy="32" r="1.9" fill="#8c1631" stroke="#0d0d0d" stroke-width="0.6"/>
<circle cx="460.5" cy="33" r="1.9" fill="#8c1631" stroke="#0d0d0d" stroke-width="0.6"/>
<circle cx="457.5" cy="34.5" r="1.9" fill="#8c1631" stroke="#0d0d0d" stroke-width="0.6"/>
<circle cx="461" cy="38.5" r="1.9" fill="#8c1631" stroke="#0d0d0d" stroke-width="0.6"/>
<circle cx="458.5" cy="43.5" r="1.9" fill="#8c1631" stroke="#0d0d0d" stroke-width="0.6"/>
<circle cx="461.2" cy="49.2" r="1.9" fill="#8c1631" stroke="#0d0d0d" stroke-width="0.6"/>
<line x1="406.8" y1="22.6" x2="406.8" y2="100.3" stroke="#262626" stroke-width="1.25"/>
<line x1="406.2" y1="99.7" x2="470.5" y2="99.7" stroke="#262626" stroke-width="1.25"/>
<line x1="404.2" y1="96.3" x2="406.8" y2="96.3" stroke="#262626" stroke-width="0.9"/>
<text x="400.7" y="98.6" font-size="6.4" text-anchor="end" fill="#404040" font-weight="normal" textLength="3.20" lengthAdjust="spacingAndGlyphs">0</text>
<line x1="404.2" y1="70.1" x2="406.8" y2="70.1" stroke="#262626" stroke-width="0.9"/>
<text x="400.7" y="72.39999999999999" font-size="6.4" text-anchor="end" fill="#404040" font-weight="normal" textLength="9.61" lengthAdjust="spacingAndGlyphs">100</text>
<line x1="404.2" y1="43.89999999999999" x2="406.8" y2="43.89999999999999" stroke="#262626" stroke-width="0.9"/>
<text x="400.7" y="46.19999999999999" font-size="6.4" text-anchor="end" fill="#404040" font-weight="normal" textLength="9.61" lengthAdjust="spacingAndGlyphs">200</text>
<line x1="426.5" y1="99.7" x2="426.5" y2="101.9" stroke="#262626" stroke-width="0.9"/>
<text x="426.5" y="111.3" font-size="6.3" text-anchor="middle" fill="#333" font-weight="normal">ND</text>
<line x1="458.55" y1="99.7" x2="458.55" y2="101.9" stroke="#262626" stroke-width="0.9"/>
<text x="458.55" y="111.3" font-size="6.3" text-anchor="middle" fill="#333" font-weight="normal">HFD</text>
<line x1="419.6" y1="21.5" x2="462.3" y2="21.5" stroke="#444" stroke-width="1.3"/>
<text x="440.95000000000005" y="21.7" font-size="7.0" text-anchor="middle" fill="#333" font-weight="bold">***</text>
<text x="383.2" y="61.05" font-size="6.8" text-anchor="middle" fill="#303030" font-weight="normal" transform="rotate(-90 383.2 61.05)" textLength="75.50" lengthAdjust="spacingAndGlyphs" stroke="#303030" stroke-width="0.13">Total cholesterol (mg/dL)</text>
<rect x="329.1" y="176.29999999999998" width="18.69999999999999" height="40.30000000000001" fill="#84a6c6"/>
<rect x="361.5" y="188.39" width="19.5" height="28.210000000000008" fill="#e1889a"/>
<line x1="338.5" y1="171.867" x2="338.5" y2="180.733" stroke="#1a1a1a" stroke-width="0.75"/>
<line x1="336.2" y1="171.867" x2="340.8" y2="171.867" stroke="#1a1a1a" stroke-width="0.75"/>
<line x1="336.2" y1="180.733" x2="340.8" y2="180.733" stroke="#1a1a1a" stroke-width="0.75"/>
<line x1="371.2" y1="185.569" x2="371.2" y2="191.21099999999998" stroke="#1a1a1a" stroke-width="0.75"/>
<line x1="368.9" y1="185.569" x2="373.5" y2="185.569" stroke="#1a1a1a" stroke-width="0.75"/>
<line x1="368.9" y1="191.21099999999998" x2="373.5" y2="191.21099999999998" stroke="#1a1a1a" stroke-width="0.75"/>
<circle cx="338.6" cy="148.3" r="2.05" fill="#1b3d61" stroke="#0d0d0d" stroke-width="0.6"/>
<circle cx="334.6" cy="164.6" r="2.05" fill="#1b3d61" stroke="#0d0d0d" stroke-width="0.6"/>
<circle cx="339.8" cy="164.6" r="2.05" fill="#1b3d61" stroke="#0d0d0d" stroke-width="0.6"/>
<circle cx="334.6" cy="176.5" r="2.05" fill="#1b3d61" stroke="#0d0d0d" stroke-width="0.6"/>
<circle cx="339.3" cy="177" r="2.05" fill="#1b3d61" stroke="#0d0d0d" stroke-width="0.6"/>
<circle cx="335.8" cy="180.5" r="2.05" fill="#1b3d61" stroke="#0d0d0d" stroke-width="0.6"/>
<circle cx="341.5" cy="180.8" r="2.05" fill="#1b3d61" stroke="#0d0d0d" stroke-width="0.6"/>
<circle cx="337.2" cy="186.5" r="2.05" fill="#1b3d61" stroke="#0d0d0d" stroke-width="0.6"/>
<circle cx="340.8" cy="190.8" r="2.05" fill="#1b3d61" stroke="#0d0d0d" stroke-width="0.6"/>
<circle cx="335.5" cy="194.8" r="2.05" fill="#1b3d61" stroke="#0d0d0d" stroke-width="0.6"/>
<circle cx="370.1" cy="172.5" r="2.05" fill="#8c1631" stroke="#0d0d0d" stroke-width="0.6"/>
<circle cx="371.8" cy="180.8" r="2.05" fill="#8c1631" stroke="#0d0d0d" stroke-width="0.6"/>
<circle cx="373.2" cy="182.5" r="2.05" fill="#8c1631" stroke="#0d0d0d" stroke-width="0.6"/>
<circle cx="368.7" cy="185.8" r="2.05" fill="#8c1631" stroke="#0d0d0d" stroke-width="0.6"/>
<circle cx="373.7" cy="185.8" r="2.05" fill="#8c1631" stroke="#0d0d0d" stroke-width="0.6"/>
<circle cx="371" cy="187.5" r="2.05" fill="#8c1631" stroke="#0d0d0d" stroke-width="0.6"/>
<circle cx="373.7" cy="193" r="2.05" fill="#8c1631" stroke="#0d0d0d" stroke-width="0.6"/>
<circle cx="368.4" cy="195.1" r="2.05" fill="#8c1631" stroke="#0d0d0d" stroke-width="0.6"/>
<circle cx="368" cy="198" r="2.05" fill="#8c1631" stroke="#0d0d0d" stroke-width="0.6"/>
<line x1="319.0" y1="145.5" x2="319.0" y2="220.79999999999998" stroke="#262626" stroke-width="1.25"/>
<line x1="318.4" y1="220.2" x2="383.5" y2="220.2" stroke="#262626" stroke-width="1.25"/>
<line x1="316.4" y1="216.6" x2="319.0" y2="216.6" stroke="#262626" stroke-width="0.9"/>
<text x="312.9" y="218.9" font-size="6.4" text-anchor="end" fill="#404040" font-weight="normal" textLength="3.20" lengthAdjust="spacingAndGlyphs">0</text>
<line x1="316.4" y1="196.45" x2="319.0" y2="196.45" stroke="#262626" stroke-width="0.9"/>
<text x="312.9" y="198.75" font-size="6.4" text-anchor="end" fill="#404040" font-weight="normal" textLength="9.61" lengthAdjust="spacingAndGlyphs">100</text>
<line x1="316.4" y1="176.29999999999998" x2="319.0" y2="176.29999999999998" stroke="#262626" stroke-width="0.9"/>
<text x="312.9" y="178.6" font-size="6.4" text-anchor="end" fill="#404040" font-weight="normal" textLength="9.61" lengthAdjust="spacingAndGlyphs">200</text>
<line x1="316.4" y1="156.14999999999998" x2="319.0" y2="156.14999999999998" stroke="#262626" stroke-width="0.9"/>
<text x="312.9" y="158.45" font-size="6.4" text-anchor="end" fill="#404040" font-weight="normal" textLength="9.61" lengthAdjust="spacingAndGlyphs">300</text>
<line x1="338.45000000000005" y1="220.2" x2="338.45000000000005" y2="222.39999999999998" stroke="#262626" stroke-width="0.9"/>
<text x="338.45000000000005" y="232.4" font-size="6.3" text-anchor="middle" fill="#333" font-weight="normal">ND</text>
<line x1="371.25" y1="220.2" x2="371.25" y2="222.39999999999998" stroke="#262626" stroke-width="0.9"/>
<text x="371.25" y="232.4" font-size="6.3" text-anchor="middle" fill="#333" font-weight="normal">HFD</text>
<line x1="333.6" y1="143.8" x2="375.8" y2="143.8" stroke="#444" stroke-width="1.3"/>
<text x="354.70000000000005" y="144.20000000000002" font-size="6.6" text-anchor="middle" fill="#444" font-weight="normal">*</text>
<text x="296.4" y="184.3" font-size="6.8" text-anchor="middle" fill="#303030" font-weight="normal" transform="rotate(-90 296.4 184.3)" textLength="15.40" lengthAdjust="spacingAndGlyphs" stroke="#303030" stroke-width="0.13">BT (s)</text>
<rect x="158.3" y="327.36400000000003" width="19.299999999999983" height="9.935999999999979" fill="#84a6c6"/>
<rect x="190.8" y="299.764" width="18.899999999999977" height="37.536" fill="#e1889a"/>
<line x1="167.8" y1="320.74" x2="167.8" y2="333.988" stroke="#1a1a1a" stroke-width="0.75"/>
<line x1="165.5" y1="320.74" x2="170.10000000000002" y2="320.74" stroke="#1a1a1a" stroke-width="0.75"/>
<line x1="165.5" y1="333.988" x2="170.10000000000002" y2="333.988" stroke="#1a1a1a" stroke-width="0.75"/>
<line x1="201.2" y1="291.668" x2="201.2" y2="307.86" stroke="#1a1a1a" stroke-width="0.75"/>
<line x1="198.89999999999998" y1="291.668" x2="203.5" y2="291.668" stroke="#1a1a1a" stroke-width="0.75"/>
<line x1="198.89999999999998" y1="307.86" x2="203.5" y2="307.86" stroke="#1a1a1a" stroke-width="0.75"/>
<circle cx="166" cy="312" r="1.95" fill="#1b3d61" stroke="#0d0d0d" stroke-width="0.6"/>
<circle cx="170.2" cy="312.4" r="1.95" fill="#1b3d61" stroke="#0d0d0d" stroke-width="0.6"/>
<circle cx="164.3" cy="337.3" r="1.95" fill="#1b3d61" stroke="#0d0d0d" stroke-width="0.6"/>
<circle cx="168.4" cy="337.3" r="1.95" fill="#1b3d61" stroke="#0d0d0d" stroke-width="0.6"/>
<circle cx="172.6" cy="337.3" r="1.95" fill="#1b3d61" stroke="#0d0d0d" stroke-width="0.6"/>
<circle cx="197.3" cy="268.8" r="1.95" fill="#8c1631" stroke="#0d0d0d" stroke-width="0.6"/>
<circle cx="201.4" cy="298.8" r="1.95" fill="#8c1631" stroke="#0d0d0d" stroke-width="0.6"/>
<circle cx="197.4" cy="311.3" r="1.95" fill="#8c1631" stroke="#0d0d0d" stroke-width="0.6"/>
<circle cx="201.5" cy="311.9" r="1.95" fill="#8c1631" stroke="#0d0d0d" stroke-width="0.6"/>
<circle cx="199.3" cy="309" r="1.95" fill="#8c1631" stroke="#0d0d0d" stroke-width="0.6"/>
<line x1="148.1" y1="265.7" x2="148.1" y2="341.20000000000005" stroke="#262626" stroke-width="1.25"/>
<line x1="147.5" y1="340.6" x2="212.3" y2="340.6" stroke="#262626" stroke-width="1.25"/>
<line x1="145.5" y1="337.3" x2="148.1" y2="337.3" stroke="#262626" stroke-width="0.9"/>
<text x="142.0" y="339.6" font-size="6.4" text-anchor="end" fill="#404040" font-weight="normal" textLength="3.20" lengthAdjust="spacingAndGlyphs">0</text>
<line x1="145.5" y1="318.90000000000003" x2="148.1" y2="318.90000000000003" stroke="#262626" stroke-width="0.9"/>
<text x="142.0" y="321.20000000000005" font-size="6.4" text-anchor="end" fill="#404040" font-weight="normal" textLength="3.20" lengthAdjust="spacingAndGlyphs">5</text>
<line x1="145.5" y1="300.5" x2="148.1" y2="300.5" stroke="#262626" stroke-width="0.9"/>
<text x="142.0" y="302.8" font-size="6.4" text-anchor="end" fill="#404040" font-weight="normal" textLength="6.41" lengthAdjust="spacingAndGlyphs">10</text>
<line x1="145.5" y1="282.1" x2="148.1" y2="282.1" stroke="#262626" stroke-width="0.9"/>
<text x="142.0" y="284.40000000000003" font-size="6.4" text-anchor="end" fill="#404040" font-weight="normal" textLength="6.41" lengthAdjust="spacingAndGlyphs">15</text>
<line x1="167.95" y1="340.6" x2="167.95" y2="342.8" stroke="#262626" stroke-width="0.9"/>
<text x="167.95" y="352.6" font-size="6.3" text-anchor="middle" fill="#333" font-weight="normal">ND</text>
<line x1="200.25" y1="340.6" x2="200.25" y2="342.8" stroke="#262626" stroke-width="0.9"/>
<text x="200.25" y="352.6" font-size="6.3" text-anchor="middle" fill="#333" font-weight="normal">HFD</text>
<line x1="161.9" y1="263.9" x2="204.8" y2="263.9" stroke="#444" stroke-width="1.3"/>
<text x="183.35000000000002" y="264.29999999999995" font-size="6.6" text-anchor="middle" fill="#444" font-weight="normal">*</text>
<text x="129.8" y="307.45" font-size="6.8" text-anchor="middle" fill="#303030" font-weight="normal" transform="rotate(-90 129.8 307.45)" textLength="68.10" lengthAdjust="spacingAndGlyphs" stroke="#303030" stroke-width="0.13">Thrombus weight (mg)</text>
<rect x="253.7" y="324.6875" width="19.69999999999999" height="13.012499999999989" fill="#84a6c6"/>
<rect x="287.0" y="295.1925" width="19.0" height="42.50749999999999" fill="#e1889a"/>
<line x1="264" y1="316.88" x2="264" y2="332.495" stroke="#1a1a1a" stroke-width="0.75"/>
<line x1="261.7" y1="316.88" x2="266.3" y2="316.88" stroke="#1a1a1a" stroke-width="0.75"/>
<line x1="261.7" y1="332.495" x2="266.3" y2="332.495" stroke="#1a1a1a" stroke-width="0.75"/>
<line x1="296.6" y1="286.95124999999996" x2="296.6" y2="303.43375" stroke="#1a1a1a" stroke-width="0.75"/>
<line x1="294.3" y1="286.95124999999996" x2="298.90000000000003" y2="286.95124999999996" stroke="#1a1a1a" stroke-width="0.75"/>
<line x1="294.3" y1="303.43375" x2="298.90000000000003" y2="303.43375" stroke="#1a1a1a" stroke-width="0.75"/>
<circle cx="260.7" cy="302.7" r="1.95" fill="#1b3d61" stroke="#0d0d0d" stroke-width="0.6"/>
<circle cx="262.3" cy="307.6" r="1.95" fill="#1b3d61" stroke="#0d0d0d" stroke-width="0.6"/>
<circle cx="262.3" cy="337.7" r="1.95" fill="#1b3d61" stroke="#0d0d0d" stroke-width="0.6"/>
<circle cx="266.8" cy="337.7" r="1.95" fill="#1b3d61" stroke="#0d0d0d" stroke-width="0.6"/>
<circle cx="271.3" cy="337.7" r="1.95" fill="#1b3d61" stroke="#0d0d0d" stroke-width="0.6"/>
<circle cx="294.9" cy="268.5" r="1.95" fill="#8c1631" stroke="#0d0d0d" stroke-width="0.6"/>
<circle cx="292.7" cy="285.7" r="1.95" fill="#8c1631" stroke="#0d0d0d" stroke-width="0.6"/>
<circle cx="294.9" cy="303.3" r="1.95" fill="#8c1631" stroke="#0d0d0d" stroke-width="0.6"/>
<circle cx="296.6" cy="307.6" r="1.95" fill="#8c1631" stroke="#0d0d0d" stroke-width="0.6"/>
<circle cx="297.3" cy="310.6" r="1.95" fill="#8c1631" stroke="#0d0d0d" stroke-width="0.6"/>
<line x1="244.0" y1="265.3" x2="244.0" y2="341.90000000000003" stroke="#262626" stroke-width="1.25"/>
<line x1="243.4" y1="341.3" x2="306" y2="341.3" stroke="#262626" stroke-width="1.25"/>
<line x1="241.4" y1="337.7" x2="244.0" y2="337.7" stroke="#262626" stroke-width="0.9"/>
<text x="237.9" y="340.0" font-size="6.4" text-anchor="end" fill="#404040" font-weight="normal" textLength="3.20" lengthAdjust="spacingAndGlyphs">0</text>
<line x1="241.4" y1="320.34999999999997" x2="244.0" y2="320.34999999999997" stroke="#262626" stroke-width="0.9"/>
<text x="237.9" y="322.65" font-size="6.4" text-anchor="end" fill="#404040" font-weight="normal" textLength="3.20" lengthAdjust="spacingAndGlyphs">2</text>
<line x1="241.4" y1="303.0" x2="244.0" y2="303.0" stroke="#262626" stroke-width="0.9"/>
<text x="237.9" y="305.3" font-size="6.4" text-anchor="end" fill="#404040" font-weight="normal" textLength="3.20" lengthAdjust="spacingAndGlyphs">4</text>
<line x1="241.4" y1="285.65" x2="244.0" y2="285.65" stroke="#262626" stroke-width="0.9"/>
<text x="237.9" y="287.95" font-size="6.4" text-anchor="end" fill="#404040" font-weight="normal" textLength="3.20" lengthAdjust="spacingAndGlyphs">6</text>
<line x1="241.4" y1="268.29999999999995" x2="244.0" y2="268.29999999999995" stroke="#262626" stroke-width="0.9"/>
<text x="237.9" y="270.59999999999997" font-size="6.4" text-anchor="end" fill="#404040" font-weight="normal" textLength="3.20" lengthAdjust="spacingAndGlyphs">8</text>
<line x1="263.54999999999995" y1="341.3" x2="263.54999999999995" y2="343.5" stroke="#262626" stroke-width="0.9"/>
<text x="263.54999999999995" y="352.7" font-size="6.3" text-anchor="middle" fill="#333" font-weight="normal">ND</text>
<line x1="296.5" y1="341.3" x2="296.5" y2="343.5" stroke="#262626" stroke-width="0.9"/>
<text x="296.5" y="352.7" font-size="6.3" text-anchor="middle" fill="#333" font-weight="normal">HFD</text>
<line x1="258" y1="264.0" x2="301" y2="264.0" stroke="#444" stroke-width="1.3"/>
<text x="279.5" y="264.4" font-size="6.6" text-anchor="middle" fill="#444" font-weight="normal">*</text>
<text x="228.5" y="302.25" font-size="6.8" text-anchor="middle" fill="#303030" font-weight="normal" transform="rotate(-90 228.5 302.25)" textLength="70.90" lengthAdjust="spacingAndGlyphs" stroke="#303030" stroke-width="0.13">Thrombus length (mm)</text>
<rect x="362.2" y="301.24" width="19.100000000000023" height="36.360000000000014" fill="#84a6c6"/>
<rect x="394.8" y="282.555" width="19.099999999999966" height="55.045000000000016" fill="#e1889a"/>
<line x1="371.8" y1="294.372" x2="371.8" y2="307.3" stroke="#1a1a1a" stroke-width="0.75"/>
<line x1="369.5" y1="294.372" x2="374.1" y2="294.372" stroke="#1a1a1a" stroke-width="0.75"/>
<line x1="369.5" y1="307.3" x2="374.1" y2="307.3" stroke="#1a1a1a" stroke-width="0.75"/>
<line x1="404.4" y1="276.495" x2="404.4" y2="288.615" stroke="#1a1a1a" stroke-width="0.75"/>
<line x1="402.09999999999997" y1="276.495" x2="406.7" y2="276.495" stroke="#1a1a1a" stroke-width="0.75"/>
<line x1="402.09999999999997" y1="288.615" x2="406.7" y2="288.615" stroke="#1a1a1a" stroke-width="0.75"/>
<circle cx="370" cy="293.8" r="1.95" fill="#1b3d61" stroke="#0d0d0d" stroke-width="0.6"/>
<circle cx="373.9" cy="296.7" r="1.95" fill="#1b3d61" stroke="#0d0d0d" stroke-width="0.6"/>
<circle cx="370.7" cy="305.7" r="1.95" fill="#1b3d61" stroke="#0d0d0d" stroke-width="0.6"/>
<circle cx="373.9" cy="306.2" r="1.95" fill="#1b3d61" stroke="#0d0d0d" stroke-width="0.6"/>
<circle cx="404.9" cy="269.8" r="1.95" fill="#8c1631" stroke="#0d0d0d" stroke-width="0.6"/>
<circle cx="403.1" cy="275.2" r="1.95" fill="#8c1631" stroke="#0d0d0d" stroke-width="0.6"/>
<circle cx="403.8" cy="291.6" r="1.95" fill="#8c1631" stroke="#0d0d0d" stroke-width="0.6"/>
<circle cx="405.6" cy="292.7" r="1.95" fill="#8c1631" stroke="#0d0d0d" stroke-width="0.6"/>
<line x1="352.1" y1="266.9" x2="352.1" y2="342.1" stroke="#262626" stroke-width="1.25"/>
<line x1="351.5" y1="341.5" x2="414" y2="341.5" stroke="#262626" stroke-width="1.25"/>
<line x1="349.5" y1="337.6" x2="352.1" y2="337.6" stroke="#262626" stroke-width="0.9"/>
<text x="346.0" y="339.90000000000003" font-size="6.4" text-anchor="end" fill="#404040" font-weight="normal" textLength="3.20" lengthAdjust="spacingAndGlyphs">0</text>
<line x1="349.5" y1="317.40000000000003" x2="352.1" y2="317.40000000000003" stroke="#262626" stroke-width="0.9"/>
<text x="346.0" y="319.70000000000005" font-size="6.4" text-anchor="end" fill="#404040" font-weight="normal" textLength="9.61" lengthAdjust="spacingAndGlyphs">200</text>
<line x1="349.5" y1="297.20000000000005" x2="352.1" y2="297.20000000000005" stroke="#262626" stroke-width="0.9"/>
<text x="346.0" y="299.50000000000006" font-size="6.4" text-anchor="end" fill="#404040" font-weight="normal" textLength="9.61" lengthAdjust="spacingAndGlyphs">400</text>
<line x1="349.5" y1="277.0" x2="352.1" y2="277.0" stroke="#262626" stroke-width="0.9"/>
<text x="346.0" y="279.3" font-size="6.4" text-anchor="end" fill="#404040" font-weight="normal" textLength="9.61" lengthAdjust="spacingAndGlyphs">600</text>
<line x1="371.75" y1="341.5" x2="371.75" y2="343.7" stroke="#262626" stroke-width="0.9"/>
<text x="371.75" y="353.1" font-size="6.3" text-anchor="middle" fill="#333" font-weight="normal">ND</text>
<line x1="404.35" y1="341.5" x2="404.35" y2="343.7" stroke="#262626" stroke-width="0.9"/>
<text x="404.35" y="353.1" font-size="6.3" text-anchor="middle" fill="#333" font-weight="normal">HFD</text>
<line x1="364.9" y1="264.6" x2="407.6" y2="264.6" stroke="#444" stroke-width="1.3"/>
<text x="386.25" y="265.0" font-size="6.6" text-anchor="middle" fill="#444" font-weight="normal">*</text>
<text x="329.2" y="305.5" font-size="6.8" text-anchor="middle" fill="#303030" font-weight="normal" transform="rotate(-90 329.2 305.5)" textLength="37.00" lengthAdjust="spacingAndGlyphs" stroke="#303030" stroke-width="0.13">FDP (ng/mL)</text>
<rect x="168.3" y="390.723" width="19.69999999999999" height="61.37700000000001" fill="#84a6c6"/>
<rect x="199.6" y="386.232" width="19.700000000000017" height="65.868" fill="#e1889a"/>
<line x1="178" y1="385.23400000000004" x2="178" y2="396.212" stroke="#1a1a1a" stroke-width="0.75"/>
<line x1="175.7" y1="385.23400000000004" x2="180.3" y2="385.23400000000004" stroke="#1a1a1a" stroke-width="0.75"/>
<line x1="175.7" y1="396.212" x2="180.3" y2="396.212" stroke="#1a1a1a" stroke-width="0.75"/>
<line x1="209.4" y1="384.236" x2="209.4" y2="388.228" stroke="#1a1a1a" stroke-width="0.75"/>
<line x1="207.1" y1="384.236" x2="211.70000000000002" y2="384.236" stroke="#1a1a1a" stroke-width="0.75"/>
<line x1="207.1" y1="388.228" x2="211.70000000000002" y2="388.228" stroke="#1a1a1a" stroke-width="0.75"/>
<circle cx="176.6" cy="385.1" r="1.9" fill="#1b3d61" stroke="#0d0d0d" stroke-width="0.6"/>
<circle cx="178.2" cy="388" r="1.9" fill="#1b3d61" stroke="#0d0d0d" stroke-width="0.6"/>
<circle cx="175.6" cy="393" r="1.9" fill="#1b3d61" stroke="#0d0d0d" stroke-width="0.6"/>
<circle cx="178.6" cy="392" r="1.9" fill="#1b3d61" stroke="#0d0d0d" stroke-width="0.6"/>
<circle cx="176.6" cy="398.5" r="1.9" fill="#1b3d61" stroke="#0d0d0d" stroke-width="0.6"/>
<circle cx="207.3" cy="387.5" r="1.9" fill="#8c1631" stroke="#0d0d0d" stroke-width="0.6"/>
<circle cx="209.5" cy="385.1" r="1.9" fill="#8c1631" stroke="#0d0d0d" stroke-width="0.6"/>
<circle cx="212" cy="386.5" r="1.9" fill="#8c1631" stroke="#0d0d0d" stroke-width="0.6"/>
<circle cx="215.6" cy="387.5" r="1.9" fill="#8c1631" stroke="#0d0d0d" stroke-width="0.6"/>
<line x1="159.1" y1="380.1" x2="159.1" y2="456.20000000000005" stroke="#262626" stroke-width="1.25"/>
<line x1="158.5" y1="455.6" x2="222.2" y2="455.6" stroke="#262626" stroke-width="1.25"/>
<line x1="156.5" y1="452.1" x2="159.1" y2="452.1" stroke="#262626" stroke-width="0.9"/>
<text x="153.0" y="454.40000000000003" font-size="6.4" text-anchor="end" fill="#404040" font-weight="normal" textLength="8.01" lengthAdjust="spacingAndGlyphs">0.0</text>
<line x1="156.5" y1="427.15000000000003" x2="159.1" y2="427.15000000000003" stroke="#262626" stroke-width="0.9"/>
<text x="153.0" y="429.45000000000005" font-size="6.4" text-anchor="end" fill="#404040" font-weight="normal" textLength="8.01" lengthAdjust="spacingAndGlyphs">0.5</text>
<line x1="156.5" y1="402.20000000000005" x2="159.1" y2="402.20000000000005" stroke="#262626" stroke-width="0.9"/>
<text x="153.0" y="404.50000000000006" font-size="6.4" text-anchor="end" fill="#404040" font-weight="normal" textLength="8.01" lengthAdjust="spacingAndGlyphs">1.0</text>
<line x1="178.15" y1="455.6" x2="178.15" y2="457.8" stroke="#262626" stroke-width="0.9"/>
<text x="178.15" y="467.6" font-size="6.3" text-anchor="middle" fill="#333" font-weight="normal">ND</text>
<line x1="209.45" y1="455.6" x2="209.45" y2="457.8" stroke="#262626" stroke-width="0.9"/>
<text x="209.45" y="467.6" font-size="6.3" text-anchor="middle" fill="#333" font-weight="normal">HFD</text>
<line x1="172.7" y1="378.3" x2="213.7" y2="378.3" stroke="#444" stroke-width="1.3"/>
<text x="193.2" y="376.8" font-size="5.7" text-anchor="middle" fill="#444" font-weight="normal">n.s.</text>
<text x="137.5" y="425.65" font-size="6.8" text-anchor="middle" fill="#303030" font-weight="normal" transform="rotate(-90 137.5 425.65)" textLength="37.70" lengthAdjust="spacingAndGlyphs" stroke="#303030" stroke-width="0.13">Onset (min)</text>
<rect x="271.9" y="398.85400000000004" width="19.400000000000034" height="53.24599999999998" fill="#84a6c6"/>
<rect x="302.5" y="403.909" width="19.399999999999977" height="48.19100000000003" fill="#e1889a"/>
<line x1="281.7" y1="393.79900000000004" x2="281.7" y2="403.909" stroke="#1a1a1a" stroke-width="0.75"/>
<line x1="279.4" y1="393.79900000000004" x2="284.0" y2="393.79900000000004" stroke="#1a1a1a" stroke-width="0.75"/>
<line x1="279.4" y1="403.909" x2="284.0" y2="403.909" stroke="#1a1a1a" stroke-width="0.75"/>
<line x1="311.7" y1="398.517" x2="311.7" y2="409.30100000000004" stroke="#1a1a1a" stroke-width="0.75"/>
<line x1="309.4" y1="398.517" x2="314.0" y2="398.517" stroke="#1a1a1a" stroke-width="0.75"/>
<line x1="309.4" y1="409.30100000000004" x2="314.0" y2="409.30100000000004" stroke="#1a1a1a" stroke-width="0.75"/>
<circle cx="282.6" cy="384.4" r="1.9" fill="#1b3d61" stroke="#0d0d0d" stroke-width="0.6"/>
<circle cx="279.3" cy="398" r="1.9" fill="#1b3d61" stroke="#0d0d0d" stroke-width="0.6"/>
<circle cx="281.7" cy="405.3" r="1.9" fill="#1b3d61" stroke="#0d0d0d" stroke-width="0.6"/>
<circle cx="283" cy="407.7" r="1.9" fill="#1b3d61" stroke="#0d0d0d" stroke-width="0.6"/>
<circle cx="310.6" cy="387.4" r="1.9" fill="#8c1631" stroke="#0d0d0d" stroke-width="0.6"/>
<circle cx="310.3" cy="405.2" r="1.9" fill="#8c1631" stroke="#0d0d0d" stroke-width="0.6"/>
<circle cx="310.6" cy="408.5" r="1.9" fill="#8c1631" stroke="#0d0d0d" stroke-width="0.6"/>
<circle cx="314.4" cy="416" r="1.9" fill="#8c1631" stroke="#0d0d0d" stroke-width="0.6"/>
<line x1="262.4" y1="381.0" x2="262.4" y2="455.6" stroke="#262626" stroke-width="1.25"/>
<line x1="261.79999999999995" y1="455.0" x2="324" y2="455.0" stroke="#262626" stroke-width="1.25"/>
<line x1="259.79999999999995" y1="452.1" x2="262.4" y2="452.1" stroke="#262626" stroke-width="0.9"/>
<text x="256.29999999999995" y="454.40000000000003" font-size="6.4" text-anchor="end" fill="#404040" font-weight="normal" textLength="11.21" lengthAdjust="spacingAndGlyphs">0.00</text>
<line x1="259.79999999999995" y1="418.40000000000003" x2="262.4" y2="418.40000000000003" stroke="#262626" stroke-width="0.9"/>
<text x="256.29999999999995" y="420.70000000000005" font-size="6.4" text-anchor="end" fill="#404040" font-weight="normal" textLength="11.21" lengthAdjust="spacingAndGlyphs">0.01</text>
<line x1="259.79999999999995" y1="384.70000000000005" x2="262.4" y2="384.70000000000005" stroke="#262626" stroke-width="0.9"/>
<text x="256.29999999999995" y="387.00000000000006" font-size="6.4" text-anchor="end" fill="#404040" font-weight="normal" textLength="11.21" lengthAdjust="spacingAndGlyphs">0.02</text>
<line x1="259.79999999999995" y1="435.25" x2="262.4" y2="435.25" stroke="#262626" stroke-width="0.9"/>
<line x1="259.79999999999995" y1="401.55" x2="262.4" y2="401.55" stroke="#262626" stroke-width="0.9"/>
<line x1="281.6" y1="455.0" x2="281.6" y2="457.2" stroke="#262626" stroke-width="0.9"/>
<text x="281.6" y="467.6" font-size="6.3" text-anchor="middle" fill="#333" font-weight="normal">ND</text>
<line x1="312.2" y1="455.0" x2="312.2" y2="457.2" stroke="#262626" stroke-width="0.9"/>
<text x="312.2" y="467.6" font-size="6.3" text-anchor="middle" fill="#333" font-weight="normal">HFD</text>
<line x1="275.6" y1="377.7" x2="316.8" y2="377.7" stroke="#444" stroke-width="1.3"/>
<text x="296.20000000000005" y="376.2" font-size="5.7" text-anchor="middle" fill="#444" font-weight="normal">n.s.</text>
<text x="237.0" y="415.55" font-size="6.8" text-anchor="middle" fill="#303030" font-weight="normal" transform="rotate(-90 237.0 415.55)" textLength="56.10" lengthAdjust="spacingAndGlyphs" stroke="#303030" stroke-width="0.13">Peak (Abs 405 nm)</text>
<rect x="366.6" y="399.167" width="19.399999999999977" height="53.033000000000015" fill="#84a6c6"/>
<rect x="398.3" y="391.565" width="19.0" height="60.63499999999999" fill="#e1889a"/>
<line x1="376.4" y1="395.185" x2="376.4" y2="403.33" stroke="#1a1a1a" stroke-width="0.75"/>
<line x1="374.09999999999997" y1="395.185" x2="378.7" y2="395.185" stroke="#1a1a1a" stroke-width="0.75"/>
<line x1="374.09999999999997" y1="403.33" x2="378.7" y2="403.33" stroke="#1a1a1a" stroke-width="0.75"/>
<line x1="405.9" y1="384.687" x2="405.9" y2="398.443" stroke="#1a1a1a" stroke-width="0.75"/>
<line x1="403.59999999999997" y1="384.687" x2="408.2" y2="384.687" stroke="#1a1a1a" stroke-width="0.75"/>
<line x1="403.59999999999997" y1="398.443" x2="408.2" y2="398.443" stroke="#1a1a1a" stroke-width="0.75"/>
<circle cx="376.4" cy="388.5" r="1.9" fill="#1b3d61" stroke="#0d0d0d" stroke-width="0.6"/>
<circle cx="375.2" cy="396.7" r="1.9" fill="#1b3d61" stroke="#0d0d0d" stroke-width="0.6"/>
<circle cx="376.4" cy="402.8" r="1.9" fill="#1b3d61" stroke="#0d0d0d" stroke-width="0.6"/>
<circle cx="375.2" cy="407.5" r="1.9" fill="#1b3d61" stroke="#0d0d0d" stroke-width="0.6"/>
<circle cx="402.4" cy="387.1" r="1.9" fill="#8c1631" stroke="#0d0d0d" stroke-width="0.6"/>
<circle cx="407.5" cy="386.5" r="1.9" fill="#8c1631" stroke="#0d0d0d" stroke-width="0.6"/>
<circle cx="408.5" cy="383.8" r="1.9" fill="#8c1631" stroke="#0d0d0d" stroke-width="0.6"/>
<circle cx="405.5" cy="409" r="1.9" fill="#8c1631" stroke="#0d0d0d" stroke-width="0.6"/>
<line x1="356.3" y1="377.7" x2="356.3" y2="455.6" stroke="#262626" stroke-width="1.25"/>
<line x1="355.7" y1="455.0" x2="420" y2="455.0" stroke="#262626" stroke-width="1.25"/>
<line x1="353.7" y1="452.2" x2="356.3" y2="452.2" stroke="#262626" stroke-width="0.9"/>
<text x="350.2" y="454.5" font-size="6.4" text-anchor="end" fill="#404040" font-weight="normal" textLength="3.20" lengthAdjust="spacingAndGlyphs">0</text>
<line x1="353.7" y1="434.09999999999997" x2="356.3" y2="434.09999999999997" stroke="#262626" stroke-width="0.9"/>
<text x="350.2" y="436.4" font-size="6.4" text-anchor="end" fill="#404040" font-weight="normal" textLength="3.20" lengthAdjust="spacingAndGlyphs">1</text>
<line x1="353.7" y1="416.0" x2="356.3" y2="416.0" stroke="#262626" stroke-width="0.9"/>
<text x="350.2" y="418.3" font-size="6.4" text-anchor="end" fill="#404040" font-weight="normal" textLength="3.20" lengthAdjust="spacingAndGlyphs">2</text>
<line x1="353.7" y1="397.9" x2="356.3" y2="397.9" stroke="#262626" stroke-width="0.9"/>
<text x="350.2" y="400.2" font-size="6.4" text-anchor="end" fill="#404040" font-weight="normal" textLength="3.20" lengthAdjust="spacingAndGlyphs">3</text>
<line x1="353.7" y1="379.79999999999995" x2="356.3" y2="379.79999999999995" stroke="#262626" stroke-width="0.9"/>
<text x="350.2" y="382.09999999999997" font-size="6.4" text-anchor="end" fill="#404040" font-weight="normal" textLength="3.20" lengthAdjust="spacingAndGlyphs">4</text>
<line x1="376.3" y1="455.0" x2="376.3" y2="457.2" stroke="#262626" stroke-width="0.9"/>
<text x="376.3" y="467.6" font-size="6.3" text-anchor="middle" fill="#333" font-weight="normal">ND</text>
<line x1="407.8" y1="455.0" x2="407.8" y2="457.2" stroke="#262626" stroke-width="0.9"/>
<text x="407.8" y="467.6" font-size="6.3" text-anchor="middle" fill="#333" font-weight="normal">HFD</text>
<line x1="368.6" y1="377.7" x2="409.5" y2="377.7" stroke="#444" stroke-width="1.3"/>
<text x="389.05" y="376.2" font-size="5.7" text-anchor="middle" fill="#444" font-weight="normal">n.s.</text>
<text x="340.8" y="412.45" font-size="6.8" text-anchor="middle" fill="#303030" font-weight="normal" transform="rotate(-90 340.8 412.45)" textLength="46.10" lengthAdjust="spacingAndGlyphs" stroke="#303030" stroke-width="0.13">TtPlateau (min)</text>
<rect x="460.8" y="418.174" width="19.399999999999977" height="33.726" fill="#84a6c6"/>
<rect x="492.1" y="395.9966" width="18.799999999999955" height="55.903399999999976" fill="#e1889a"/>
<line x1="470.5" y1="416.64099999999996" x2="470.5" y2="419.707" stroke="#1a1a1a" stroke-width="0.75"/>
<line x1="468.2" y1="416.64099999999996" x2="472.8" y2="416.64099999999996" stroke="#1a1a1a" stroke-width="0.75"/>
<line x1="468.2" y1="419.707" x2="472.8" y2="419.707" stroke="#1a1a1a" stroke-width="0.75"/>
<line x1="501.1" y1="387.8206" x2="501.1" y2="402.844" stroke="#1a1a1a" stroke-width="0.75"/>
<line x1="498.8" y1="387.8206" x2="503.40000000000003" y2="387.8206" stroke="#1a1a1a" stroke-width="0.75"/>
<line x1="498.8" y1="402.844" x2="503.40000000000003" y2="402.844" stroke="#1a1a1a" stroke-width="0.75"/>
<circle cx="465.9" cy="417.2" r="1.9" fill="#1b3d61" stroke="#0d0d0d" stroke-width="0.6"/>
<circle cx="468.5" cy="417.8" r="1.9" fill="#1b3d61" stroke="#0d0d0d" stroke-width="0.6"/>
<circle cx="471" cy="417.2" r="1.9" fill="#1b3d61" stroke="#0d0d0d" stroke-width="0.6"/>
<circle cx="473.1" cy="415.7" r="1.9" fill="#1b3d61" stroke="#0d0d0d" stroke-width="0.6"/>
<circle cx="470" cy="420.6" r="1.9" fill="#1b3d61" stroke="#0d0d0d" stroke-width="0.6"/>
<circle cx="499.7" cy="383.4" r="1.9" fill="#8c1631" stroke="#0d0d0d" stroke-width="0.6"/>
<circle cx="502.3" cy="386.5" r="1.9" fill="#8c1631" stroke="#0d0d0d" stroke-width="0.6"/>
<circle cx="500.7" cy="398.1" r="1.9" fill="#8c1631" stroke="#0d0d0d" stroke-width="0.6"/>
<circle cx="499.7" cy="415.1" r="1.9" fill="#8c1631" stroke="#0d0d0d" stroke-width="0.6"/>
<line x1="451.2" y1="380.3" x2="451.2" y2="456.0" stroke="#262626" stroke-width="1.25"/>
<line x1="450.59999999999997" y1="455.4" x2="513" y2="455.4" stroke="#262626" stroke-width="1.25"/>
<line x1="448.59999999999997" y1="451.9" x2="451.2" y2="451.9" stroke="#262626" stroke-width="0.9"/>
<text x="445.09999999999997" y="454.2" font-size="6.4" text-anchor="end" fill="#404040" font-weight="normal" textLength="3.20" lengthAdjust="spacingAndGlyphs">0</text>
<line x1="448.59999999999997" y1="431.46" x2="451.2" y2="431.46" stroke="#262626" stroke-width="0.9"/>
<text x="445.09999999999997" y="433.76" font-size="6.4" text-anchor="end" fill="#404040" font-weight="normal" textLength="3.20" lengthAdjust="spacingAndGlyphs">2</text>
<line x1="448.59999999999997" y1="411.02" x2="451.2" y2="411.02" stroke="#262626" stroke-width="0.9"/>
<text x="445.09999999999997" y="413.32" font-size="6.4" text-anchor="end" fill="#404040" font-weight="normal" textLength="3.20" lengthAdjust="spacingAndGlyphs">4</text>
<line x1="448.59999999999997" y1="390.58" x2="451.2" y2="390.58" stroke="#262626" stroke-width="0.9"/>
<text x="445.09999999999997" y="392.88" font-size="6.4" text-anchor="end" fill="#404040" font-weight="normal" textLength="3.20" lengthAdjust="spacingAndGlyphs">6</text>
<line x1="470.5" y1="455.4" x2="470.5" y2="457.59999999999997" stroke="#262626" stroke-width="0.9"/>
<text x="470.5" y="467.6" font-size="6.3" text-anchor="middle" fill="#333" font-weight="normal">ND</text>
<line x1="501.5" y1="455.4" x2="501.5" y2="457.59999999999997" stroke="#262626" stroke-width="0.9"/>
<text x="501.5" y="467.6" font-size="6.3" text-anchor="middle" fill="#333" font-weight="normal">HFD</text>
<line x1="464.9" y1="376.2" x2="506.4" y2="376.2" stroke="#444" stroke-width="1.3"/>
<text x="485.65" y="376.59999999999997" font-size="6.6" text-anchor="middle" fill="#444" font-weight="normal">*</text>
<text x="435.3" y="418.15" font-size="6.8" text-anchor="middle" fill="#303030" font-weight="normal" transform="rotate(-90 435.3 418.15)" textLength="59.30" lengthAdjust="spacingAndGlyphs" stroke="#303030" stroke-width="0.13">Clot lysis time (min)</text>
<polyline points="51.20,452.70 53.45,452.70 55.70,452.70 57.95,452.70 58.85,452.70 59.75,433.59 60.79,424.65 62.81,419.74 65.60,418.34 68.75,419.39 71.00,421.85 73.70,426.23 75.50,429.56 78.52,431.66 80.45,434.64 82.25,439.55 84.95,444.46 87.20,446.74 90.35,448.84 93.05,450.25 95.30,452.17 97.55,452.70 99.80,452.70 102.05,452.70 104.30,452.70 106.55,452.70 108.80,452.70 111.05,452.70 113.30,452.70 115.55,452.70 117.80,452.70 119.60,452.70" fill="none" stroke="#cf2f59" stroke-width="1.4" stroke-linejoin="round"/>
<circle cx="51.20" cy="452.70" r="1.3" fill="none" stroke="#cf2f59" stroke-width="0.8"/><circle cx="53.45" cy="452.70" r="1.3" fill="none" stroke="#cf2f59" stroke-width="0.8"/><circle cx="55.70" cy="452.70" r="1.3" fill="none" stroke="#cf2f59" stroke-width="0.8"/><circle cx="57.95" cy="452.70" r="1.3" fill="none" stroke="#cf2f59" stroke-width="0.8"/><circle cx="58.85" cy="452.70" r="1.3" fill="none" stroke="#cf2f59" stroke-width="0.8"/><circle cx="59.75" cy="433.59" r="1.3" fill="none" stroke="#cf2f59" stroke-width="0.8"/><circle cx="60.79" cy="424.65" r="1.3" fill="none" stroke="#cf2f59" stroke-width="0.8"/><circle cx="62.81" cy="419.74" r="1.3" fill="none" stroke="#cf2f59" stroke-width="0.8"/><circle cx="65.60" cy="418.34" r="1.3" fill="none" stroke="#cf2f59" stroke-width="0.8"/><circle cx="68.75" cy="419.39" r="1.3" fill="none" stroke="#cf2f59" stroke-width="0.8"/><circle cx="71.00" cy="421.85" r="1.3" fill="none" stroke="#cf2f59" stroke-width="0.8"/><circle cx="73.70" cy="426.23" r="1.3" fill="none" stroke="#cf2f59" stroke-width="0.8"/><circle cx="75.50" cy="429.56" r="1.3" fill="none" stroke="#cf2f59" stroke-width="0.8"/><circle cx="78.52" cy="431.66" r="1.3" fill="none" stroke="#cf2f59" stroke-width="0.8"/><circle cx="80.45" cy="434.64" r="1.3" fill="none" stroke="#cf2f59" stroke-width="0.8"/><circle cx="82.25" cy="439.55" r="1.3" fill="none" stroke="#cf2f59" stroke-width="0.8"/><circle cx="84.95" cy="444.46" r="1.3" fill="none" stroke="#cf2f59" stroke-width="0.8"/><circle cx="87.20" cy="446.74" r="1.3" fill="none" stroke="#cf2f59" stroke-width="0.8"/><circle cx="90.35" cy="448.84" r="1.3" fill="none" stroke="#cf2f59" stroke-width="0.8"/><circle cx="93.05" cy="450.25" r="1.3" fill="none" stroke="#cf2f59" stroke-width="0.8"/><circle cx="95.30" cy="452.17" r="1.3" fill="none" stroke="#cf2f59" stroke-width="0.8"/><circle cx="97.55" cy="452.70" r="1.3" fill="none" stroke="#cf2f59" stroke-width="0.8"/><circle cx="99.80" cy="452.70" r="1.3" fill="none" stroke="#cf2f59" stroke-width="0.8"/><circle cx="102.05" cy="452.70" r="1.3" fill="none" stroke="#cf2f59" stroke-width="0.8"/><circle cx="104.30" cy="452.70" r="1.3" fill="none" stroke="#cf2f59" stroke-width="0.8"/><circle cx="106.55" cy="452.70" r="1.3" fill="none" stroke="#cf2f59" stroke-width="0.8"/><circle cx="108.80" cy="452.70" r="1.3" fill="none" stroke="#cf2f59" stroke-width="0.8"/><circle cx="111.05" cy="452.70" r="1.3" fill="none" stroke="#cf2f59" stroke-width="0.8"/><circle cx="113.30" cy="452.70" r="1.3" fill="none" stroke="#cf2f59" stroke-width="0.8"/><circle cx="115.55" cy="452.70" r="1.3" fill="none" stroke="#cf2f59" stroke-width="0.8"/><circle cx="117.80" cy="452.70" r="1.3" fill="none" stroke="#cf2f59" stroke-width="0.8"/><circle cx="119.60" cy="452.70" r="1.3" fill="none" stroke="#cf2f59" stroke-width="0.8"/>
<polyline points="51.20,452.70 53.45,452.70 55.70,452.70 57.95,452.70 60.20,452.70 61.28,437.45 62.32,427.63 63.80,419.74 66.73,417.11 69.65,417.99 71.59,420.80 74.15,429.56 76.40,436.57 79.10,442.36 80.90,448.32 82.25,452.17 84.50,452.70 86.75,452.70 89.00,452.70 91.25,452.70 93.50,452.70 95.75,452.70" fill="none" stroke="#2e76a0" stroke-width="1.4" stroke-linejoin="round"/>
<circle cx="51.20" cy="452.70" r="1.3" fill="none" stroke="#2e76a0" stroke-width="0.8"/><circle cx="53.45" cy="452.70" r="1.3" fill="none" stroke="#2e76a0" stroke-width="0.8"/><circle cx="55.70" cy="452.70" r="1.3" fill="none" stroke="#2e76a0" stroke-width="0.8"/><circle cx="57.95" cy="452.70" r="1.3" fill="none" stroke="#2e76a0" stroke-width="0.8"/><circle cx="60.20" cy="452.70" r="1.3" fill="none" stroke="#2e76a0" stroke-width="0.8"/><circle cx="61.28" cy="437.45" r="1.3" fill="none" stroke="#2e76a0" stroke-width="0.8"/><circle cx="62.32" cy="427.63" r="1.3" fill="none" stroke="#2e76a0" stroke-width="0.8"/><circle cx="63.80" cy="419.74" r="1.3" fill="none" stroke="#2e76a0" stroke-width="0.8"/><circle cx="66.73" cy="417.11" r="1.3" fill="none" stroke="#2e76a0" stroke-width="0.8"/><circle cx="69.65" cy="417.99" r="1.3" fill="none" stroke="#2e76a0" stroke-width="0.8"/><circle cx="71.59" cy="420.80" r="1.3" fill="none" stroke="#2e76a0" stroke-width="0.8"/><circle cx="74.15" cy="429.56" r="1.3" fill="none" stroke="#2e76a0" stroke-width="0.8"/><circle cx="76.40" cy="436.57" r="1.3" fill="none" stroke="#2e76a0" stroke-width="0.8"/><circle cx="79.10" cy="442.36" r="1.3" fill="none" stroke="#2e76a0" stroke-width="0.8"/><circle cx="80.90" cy="448.32" r="1.3" fill="none" stroke="#2e76a0" stroke-width="0.8"/><circle cx="82.25" cy="452.17" r="1.3" fill="none" stroke="#2e76a0" stroke-width="0.8"/><circle cx="84.50" cy="452.70" r="1.3" fill="none" stroke="#2e76a0" stroke-width="0.8"/><circle cx="86.75" cy="452.70" r="1.3" fill="none" stroke="#2e76a0" stroke-width="0.8"/><circle cx="89.00" cy="452.70" r="1.3" fill="none" stroke="#2e76a0" stroke-width="0.8"/><circle cx="91.25" cy="452.70" r="1.3" fill="none" stroke="#2e76a0" stroke-width="0.8"/><circle cx="93.50" cy="452.70" r="1.3" fill="none" stroke="#2e76a0" stroke-width="0.8"/><circle cx="95.75" cy="452.70" r="1.3" fill="none" stroke="#2e76a0" stroke-width="0.8"/>
<line x1="47.4" y1="398.3" x2="47.4" y2="456.2" stroke="#262626" stroke-width="1.25"/>
<line x1="46.8" y1="455.5" x2="121.2" y2="455.5" stroke="#262626" stroke-width="1.25"/>
<line x1="44.8" y1="452.7" x2="47.4" y2="452.7" stroke="#262626" stroke-width="0.9"/>
<text x="41.5" y="455.0" font-size="6.4" text-anchor="end" fill="#484848" font-weight="normal" textLength="10.96" lengthAdjust="spacingAndGlyphs">0.00</text>
<line x1="44.8" y1="435.16999999999996" x2="47.4" y2="435.16999999999996" stroke="#262626" stroke-width="0.9"/>
<text x="41.5" y="437.46999999999997" font-size="6.4" text-anchor="end" fill="#484848" font-weight="normal" textLength="10.96" lengthAdjust="spacingAndGlyphs">0.01</text>
<line x1="44.8" y1="417.64" x2="47.4" y2="417.64" stroke="#262626" stroke-width="0.9"/>
<text x="41.5" y="419.94" font-size="6.4" text-anchor="end" fill="#484848" font-weight="normal" textLength="10.96" lengthAdjust="spacingAndGlyphs">0.02</text>
<line x1="44.8" y1="400.11" x2="47.4" y2="400.11" stroke="#262626" stroke-width="0.9"/>
<text x="41.5" y="402.41" font-size="6.4" text-anchor="end" fill="#484848" font-weight="normal" textLength="10.96" lengthAdjust="spacingAndGlyphs">0.03</text>
<line x1="51.2" y1="455.5" x2="51.2" y2="457.8" stroke="#262626" stroke-width="0.9"/>
<text x="51.2" y="467.4" font-size="6.4" text-anchor="middle" fill="#484848" font-weight="normal" textLength="3.20" lengthAdjust="spacingAndGlyphs">0</text>
<line x1="73.7" y1="455.5" x2="73.7" y2="457.8" stroke="#262626" stroke-width="0.9"/>
<text x="73.7" y="467.4" font-size="6.4" text-anchor="middle" fill="#484848" font-weight="normal" textLength="3.20" lengthAdjust="spacingAndGlyphs">5</text>
<line x1="96.2" y1="455.5" x2="96.2" y2="457.8" stroke="#262626" stroke-width="0.9"/>
<text x="96.2" y="467.4" font-size="6.4" text-anchor="middle" fill="#484848" font-weight="normal" textLength="6.41" lengthAdjust="spacingAndGlyphs">10</text>
<line x1="118.7" y1="455.5" x2="118.7" y2="457.8" stroke="#262626" stroke-width="0.9"/>
<text x="118.7" y="467.4" font-size="6.4" text-anchor="middle" fill="#484848" font-weight="normal" textLength="6.41" lengthAdjust="spacingAndGlyphs">15</text>
<text x="69.2" y="479.6" font-size="7.2" text-anchor="start" fill="#303030" font-weight="normal" textLength="31.50" lengthAdjust="spacingAndGlyphs" stroke="#303030" stroke-width="0.15">Time (min)</text>
<text x="13.1" y="424.65" font-size="6.9" text-anchor="middle" fill="#303030" font-weight="normal" transform="rotate(-90 13.1 424.65)" textLength="61.30" lengthAdjust="spacingAndGlyphs" stroke="#303030" stroke-width="0.18">Fibrin formation and</text>
<text x="22.3" y="426.55" font-size="6.9" text-anchor="middle" fill="#303030" font-weight="normal" transform="rotate(-90 22.3 426.55)" textLength="57.50" lengthAdjust="spacingAndGlyphs" stroke="#303030" stroke-width="0.18">lysis (ABs 405 nm)</text>
<line x1="90.8" y1="400.2" x2="100.1" y2="400.2" stroke="#2e76a0" stroke-width="1.3"/>
<circle cx="95.6" cy="400.2" r="1.1" fill="#fff" stroke="#2e76a0" stroke-width="0.7"/>
<text x="103.8" y="402.4" font-size="6.0" text-anchor="start" fill="#262626" font-weight="normal" textLength="8.90" lengthAdjust="spacingAndGlyphs" stroke="#262626" stroke-width="0.18">ND</text>
<line x1="90.8" y1="410.2" x2="100.1" y2="410.2" stroke="#cf2f59" stroke-width="1.3"/>
<circle cx="95.6" cy="410.2" r="1.1" fill="#fff" stroke="#cf2f59" stroke-width="0.7"/>
<text x="103.8" y="412.3" font-size="6.0" text-anchor="start" fill="#262626" font-weight="normal" textLength="12.30" lengthAdjust="spacingAndGlyphs" stroke="#262626" stroke-width="0.18">HFD</text>
<rect x="0.5" y="0.5" width="519" height="488" fill="none" stroke="#555" stroke-width="1"/>
</svg></body></html>
